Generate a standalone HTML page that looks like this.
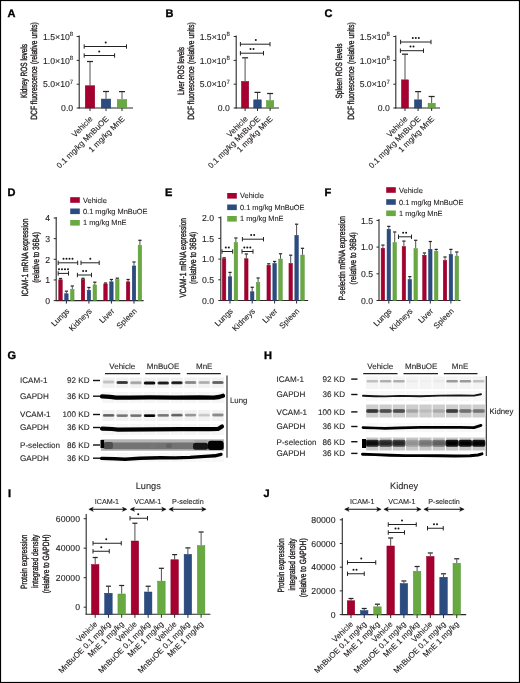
<!DOCTYPE html>
<html><head><meta charset="utf-8"><style>
html,body{margin:0;padding:0;background:#fff;}
body{width:520px;height:683px;overflow:hidden;font-family:"Liberation Sans", sans-serif;}
svg{display:block;will-change:transform;}
text{text-rendering:geometricPrecision;stroke:#231f20;stroke-width:0.1px;}
</style></head><body>
<svg width="520" height="683" viewBox="0 0 520 683" font-family='"Liberation Sans", sans-serif'>
<defs><filter id="blur" x="-5%" y="-20%" width="110%" height="140%"><feGaussianBlur stdDeviation="0.6"/></filter></defs>
<rect x="0" y="0" width="520" height="683" fill="#fff"/>
<text x="0" y="0" font-size="11" text-anchor="start" font-weight="bold" fill="#000" transform="translate(7.40,17.30)" style="stroke:#000;stroke-width:0.35px">A</text>
<line x1="79.20" y1="35.50" x2="79.20" y2="108.50" stroke="#2a2a2a" stroke-width="1.1"/>
<line x1="78.70" y1="108.00" x2="133.00" y2="108.00" stroke="#2a2a2a" stroke-width="1.1"/>
<line x1="76.70" y1="108.00" x2="79.20" y2="108.00" stroke="#2a2a2a" stroke-width="1"/>
<text x="0" y="0" font-size="8.7" text-anchor="end" font-weight="normal" fill="#231f20" transform="translate(73.20,111.20)" >0.0</text>
<line x1="76.70" y1="84.20" x2="79.20" y2="84.20" stroke="#2a2a2a" stroke-width="1"/>
<text x="0" y="0" font-size="8.7" text-anchor="end" font-weight="normal" fill="#231f20" transform="translate(73.20,87.40)" >5.0×10<tspan dy="-3.6" font-size="6">7</tspan></text>
<line x1="76.70" y1="60.40" x2="79.20" y2="60.40" stroke="#2a2a2a" stroke-width="1"/>
<text x="0" y="0" font-size="8.7" text-anchor="end" font-weight="normal" fill="#231f20" transform="translate(73.20,63.60)" >1.0×10<tspan dy="-3.6" font-size="6">8</tspan></text>
<line x1="76.70" y1="36.50" x2="79.20" y2="36.50" stroke="#2a2a2a" stroke-width="1"/>
<text x="0" y="0" font-size="8.7" text-anchor="end" font-weight="normal" fill="#231f20" transform="translate(73.20,39.70)" >1.5×10<tspan dy="-3.6" font-size="6">8</tspan></text>
<line x1="90.00" y1="85.50" x2="90.00" y2="62.00" stroke="#505050" stroke-width="1.0"/>
<line x1="87.00" y1="61.50" x2="93.00" y2="61.50" stroke="#262626" stroke-width="1.25"/>
<rect x="85.25" y="85.75" width="9.50" height="22.25" fill="#a50030" stroke="#8c0026" stroke-width="0.5"/>
<line x1="90.00" y1="108.00" x2="90.00" y2="111.00" stroke="#2a2a2a" stroke-width="1"/>
<line x1="106.00" y1="98.80" x2="106.00" y2="92.00" stroke="#505050" stroke-width="1.0"/>
<line x1="103.00" y1="91.50" x2="109.00" y2="91.50" stroke="#262626" stroke-width="1.25"/>
<rect x="101.25" y="99.05" width="9.50" height="8.95" fill="#2c4c80" stroke="#1d3a72" stroke-width="0.5"/>
<line x1="106.00" y1="108.00" x2="106.00" y2="111.00" stroke="#2a2a2a" stroke-width="1"/>
<line x1="122.00" y1="99.30" x2="122.00" y2="92.10" stroke="#505050" stroke-width="1.0"/>
<line x1="119.00" y1="91.60" x2="125.00" y2="91.60" stroke="#262626" stroke-width="1.25"/>
<rect x="117.25" y="99.55" width="9.50" height="8.45" fill="#68a942" stroke="#559436" stroke-width="0.5"/>
<line x1="122.00" y1="108.00" x2="122.00" y2="111.00" stroke="#2a2a2a" stroke-width="1"/>
<line x1="84.20" y1="46.50" x2="126.50" y2="46.50" stroke="#222" stroke-width="1.0"/>
<line x1="84.20" y1="44.30" x2="84.20" y2="48.70" stroke="#222" stroke-width="1.0"/>
<line x1="126.50" y1="44.30" x2="126.50" y2="48.70" stroke="#222" stroke-width="1.0"/>
<circle cx="105.70" cy="42.40" r="1.0" fill="#151515"/>
<line x1="84.20" y1="55.50" x2="114.60" y2="55.50" stroke="#222" stroke-width="1.0"/>
<line x1="84.20" y1="53.30" x2="84.20" y2="57.70" stroke="#222" stroke-width="1.0"/>
<line x1="114.60" y1="53.30" x2="114.60" y2="57.70" stroke="#222" stroke-width="1.0"/>
<circle cx="99.20" cy="51.40" r="1.0" fill="#151515"/>
<text x="0" y="0" font-size="9" text-anchor="middle" font-weight="normal" fill="#231f20" textLength="54" lengthAdjust="spacingAndGlyphs" transform="translate(27.00,71.00) rotate(-90)" style="stroke-width:0.38px">Kidney ROS levels</text>
<text x="0" y="0" font-size="9" text-anchor="middle" font-weight="normal" fill="#231f20" textLength="97.6" lengthAdjust="spacingAndGlyphs" transform="translate(36.60,71.00) rotate(-90)" style="stroke-width:0.38px">DCF fluorescence (relative units)</text>
<text x="0" y="0" font-size="8" text-anchor="end" font-weight="normal" fill="#231f20" transform="translate(93.20,119.40) rotate(-45)" >Vehicle</text>
<text x="0" y="0" font-size="8" text-anchor="end" font-weight="normal" fill="#231f20" transform="translate(109.20,119.40) rotate(-45)" >0.1 mg/kg MnBuOE</text>
<text x="0" y="0" font-size="8" text-anchor="end" font-weight="normal" fill="#231f20" transform="translate(125.20,119.40) rotate(-45)" >1 mg/kg MnE</text>
<text x="0" y="0" font-size="11" text-anchor="start" font-weight="bold" fill="#000" transform="translate(165.40,17.30)" style="stroke:#000;stroke-width:0.35px">B</text>
<line x1="236.20" y1="35.50" x2="236.20" y2="108.50" stroke="#2a2a2a" stroke-width="1.1"/>
<line x1="235.70" y1="108.00" x2="279.00" y2="108.00" stroke="#2a2a2a" stroke-width="1.1"/>
<line x1="233.70" y1="108.00" x2="236.20" y2="108.00" stroke="#2a2a2a" stroke-width="1"/>
<text x="0" y="0" font-size="8.7" text-anchor="end" font-weight="normal" fill="#231f20" transform="translate(229.80,111.20)" >0.0</text>
<line x1="233.70" y1="84.20" x2="236.20" y2="84.20" stroke="#2a2a2a" stroke-width="1"/>
<text x="0" y="0" font-size="8.7" text-anchor="end" font-weight="normal" fill="#231f20" transform="translate(229.80,87.40)" >5.0×10<tspan dy="-3.6" font-size="6">7</tspan></text>
<line x1="233.70" y1="60.40" x2="236.20" y2="60.40" stroke="#2a2a2a" stroke-width="1"/>
<text x="0" y="0" font-size="8.7" text-anchor="end" font-weight="normal" fill="#231f20" transform="translate(229.80,63.60)" >1.0×10<tspan dy="-3.6" font-size="6">8</tspan></text>
<line x1="233.70" y1="36.50" x2="236.20" y2="36.50" stroke="#2a2a2a" stroke-width="1"/>
<text x="0" y="0" font-size="8.7" text-anchor="end" font-weight="normal" fill="#231f20" transform="translate(229.80,39.70)" >1.5×10<tspan dy="-3.6" font-size="6">8</tspan></text>
<line x1="245.10" y1="81.20" x2="245.10" y2="58.30" stroke="#505050" stroke-width="1.0"/>
<line x1="242.10" y1="57.80" x2="248.10" y2="57.80" stroke="#262626" stroke-width="1.25"/>
<rect x="241.45" y="81.45" width="7.30" height="26.55" fill="#a50030" stroke="#8c0026" stroke-width="0.5"/>
<line x1="245.10" y1="108.00" x2="245.10" y2="111.00" stroke="#2a2a2a" stroke-width="1"/>
<line x1="257.50" y1="99.60" x2="257.50" y2="92.90" stroke="#505050" stroke-width="1.0"/>
<line x1="254.50" y1="92.40" x2="260.50" y2="92.40" stroke="#262626" stroke-width="1.25"/>
<rect x="253.75" y="99.85" width="7.50" height="8.15" fill="#2c4c80" stroke="#1d3a72" stroke-width="0.5"/>
<line x1="257.50" y1="108.00" x2="257.50" y2="111.00" stroke="#2a2a2a" stroke-width="1"/>
<line x1="270.10" y1="100.40" x2="270.10" y2="94.00" stroke="#505050" stroke-width="1.0"/>
<line x1="267.10" y1="93.50" x2="273.10" y2="93.50" stroke="#262626" stroke-width="1.25"/>
<rect x="266.45" y="100.65" width="7.30" height="7.35" fill="#68a942" stroke="#559436" stroke-width="0.5"/>
<line x1="270.10" y1="108.00" x2="270.10" y2="111.00" stroke="#2a2a2a" stroke-width="1"/>
<line x1="240.40" y1="44.20" x2="270.00" y2="44.20" stroke="#222" stroke-width="1.0"/>
<line x1="240.40" y1="42.00" x2="240.40" y2="46.40" stroke="#222" stroke-width="1.0"/>
<line x1="270.00" y1="42.00" x2="270.00" y2="46.40" stroke="#222" stroke-width="1.0"/>
<circle cx="255.80" cy="40.10" r="1.0" fill="#151515"/>
<line x1="240.40" y1="53.20" x2="263.50" y2="53.20" stroke="#222" stroke-width="1.0"/>
<line x1="240.40" y1="51.00" x2="240.40" y2="55.40" stroke="#222" stroke-width="1.0"/>
<line x1="263.50" y1="51.00" x2="263.50" y2="55.40" stroke="#222" stroke-width="1.0"/>
<circle cx="250.50" cy="49.10" r="1.0" fill="#151515"/>
<circle cx="253.50" cy="49.10" r="1.0" fill="#151515"/>
<text x="0" y="0" font-size="9" text-anchor="middle" font-weight="normal" fill="#231f20" textLength="48" lengthAdjust="spacingAndGlyphs" transform="translate(184.00,71.00) rotate(-90)" style="stroke-width:0.38px">Liver ROS levels</text>
<text x="0" y="0" font-size="9" text-anchor="middle" font-weight="normal" fill="#231f20" textLength="97.6" lengthAdjust="spacingAndGlyphs" transform="translate(194.20,71.00) rotate(-90)" style="stroke-width:0.38px">DCF fluorescence (relative units)</text>
<text x="0" y="0" font-size="8" text-anchor="end" font-weight="normal" fill="#231f20" transform="translate(248.30,119.40) rotate(-45)" >Vehicle</text>
<text x="0" y="0" font-size="8" text-anchor="end" font-weight="normal" fill="#231f20" transform="translate(260.70,119.40) rotate(-45)" >0.1 mg/kg MnBuOE</text>
<text x="0" y="0" font-size="8" text-anchor="end" font-weight="normal" fill="#231f20" transform="translate(273.30,119.40) rotate(-45)" >1 mg/kg MnE</text>
<text x="0" y="0" font-size="11" text-anchor="start" font-weight="bold" fill="#000" transform="translate(324.40,17.30)" style="stroke:#000;stroke-width:0.35px">C</text>
<line x1="395.80" y1="35.50" x2="395.80" y2="108.50" stroke="#2a2a2a" stroke-width="1.1"/>
<line x1="395.30" y1="108.00" x2="440.00" y2="108.00" stroke="#2a2a2a" stroke-width="1.1"/>
<line x1="393.30" y1="108.00" x2="395.80" y2="108.00" stroke="#2a2a2a" stroke-width="1"/>
<text x="0" y="0" font-size="8.7" text-anchor="end" font-weight="normal" fill="#231f20" transform="translate(389.80,111.20)" >0.0</text>
<line x1="393.30" y1="84.20" x2="395.80" y2="84.20" stroke="#2a2a2a" stroke-width="1"/>
<text x="0" y="0" font-size="8.7" text-anchor="end" font-weight="normal" fill="#231f20" transform="translate(389.80,87.40)" >5.0×10<tspan dy="-3.6" font-size="6">7</tspan></text>
<line x1="393.30" y1="60.40" x2="395.80" y2="60.40" stroke="#2a2a2a" stroke-width="1"/>
<text x="0" y="0" font-size="8.7" text-anchor="end" font-weight="normal" fill="#231f20" transform="translate(389.80,63.60)" >1.0×10<tspan dy="-3.6" font-size="6">8</tspan></text>
<line x1="393.30" y1="36.50" x2="395.80" y2="36.50" stroke="#2a2a2a" stroke-width="1"/>
<text x="0" y="0" font-size="8.7" text-anchor="end" font-weight="normal" fill="#231f20" transform="translate(389.80,39.70)" >1.5×10<tspan dy="-3.6" font-size="6">8</tspan></text>
<line x1="405.00" y1="79.60" x2="405.00" y2="54.70" stroke="#505050" stroke-width="1.0"/>
<line x1="402.00" y1="54.20" x2="408.00" y2="54.20" stroke="#262626" stroke-width="1.25"/>
<rect x="401.45" y="79.85" width="7.10" height="28.15" fill="#a50030" stroke="#8c0026" stroke-width="0.5"/>
<line x1="405.00" y1="108.00" x2="405.00" y2="111.00" stroke="#2a2a2a" stroke-width="1"/>
<line x1="418.10" y1="99.60" x2="418.10" y2="92.10" stroke="#505050" stroke-width="1.0"/>
<line x1="415.10" y1="91.60" x2="421.10" y2="91.60" stroke="#262626" stroke-width="1.25"/>
<rect x="414.45" y="99.85" width="7.30" height="8.15" fill="#2c4c80" stroke="#1d3a72" stroke-width="0.5"/>
<line x1="418.10" y1="108.00" x2="418.10" y2="111.00" stroke="#2a2a2a" stroke-width="1"/>
<line x1="431.65" y1="103.00" x2="431.65" y2="97.00" stroke="#505050" stroke-width="1.0"/>
<line x1="428.65" y1="96.50" x2="434.65" y2="96.50" stroke="#262626" stroke-width="1.25"/>
<rect x="428.05" y="103.25" width="7.20" height="4.75" fill="#68a942" stroke="#559436" stroke-width="0.5"/>
<line x1="431.65" y1="108.00" x2="431.65" y2="111.00" stroke="#2a2a2a" stroke-width="1"/>
<line x1="400.60" y1="42.00" x2="431.00" y2="42.00" stroke="#222" stroke-width="1.0"/>
<line x1="400.60" y1="39.80" x2="400.60" y2="44.20" stroke="#222" stroke-width="1.0"/>
<line x1="431.00" y1="39.80" x2="431.00" y2="44.20" stroke="#222" stroke-width="1.0"/>
<circle cx="412.80" cy="37.90" r="1.0" fill="#151515"/>
<circle cx="415.80" cy="37.90" r="1.0" fill="#151515"/>
<circle cx="418.80" cy="37.90" r="1.0" fill="#151515"/>
<line x1="400.40" y1="50.70" x2="423.50" y2="50.70" stroke="#222" stroke-width="1.0"/>
<line x1="400.40" y1="48.50" x2="400.40" y2="52.90" stroke="#222" stroke-width="1.0"/>
<line x1="423.50" y1="48.50" x2="423.50" y2="52.90" stroke="#222" stroke-width="1.0"/>
<circle cx="410.50" cy="46.60" r="1.0" fill="#151515"/>
<circle cx="413.50" cy="46.60" r="1.0" fill="#151515"/>
<text x="0" y="0" font-size="9" text-anchor="middle" font-weight="normal" fill="#231f20" textLength="55" lengthAdjust="spacingAndGlyphs" transform="translate(342.20,71.00) rotate(-90)" style="stroke-width:0.38px">Spleen ROS levels</text>
<text x="0" y="0" font-size="9" text-anchor="middle" font-weight="normal" fill="#231f20" textLength="97.6" lengthAdjust="spacingAndGlyphs" transform="translate(354.20,71.00) rotate(-90)" style="stroke-width:0.38px">DCF fluorescence (relative units)</text>
<text x="0" y="0" font-size="8" text-anchor="end" font-weight="normal" fill="#231f20" transform="translate(408.20,119.40) rotate(-45)" >Vehicle</text>
<text x="0" y="0" font-size="8" text-anchor="end" font-weight="normal" fill="#231f20" transform="translate(421.30,119.40) rotate(-45)" >0.1 mg/kg MnBuOE</text>
<text x="0" y="0" font-size="8" text-anchor="end" font-weight="normal" fill="#231f20" transform="translate(434.85,119.40) rotate(-45)" >1 mg/kg MnE</text>
<text x="0" y="0" font-size="11" text-anchor="start" font-weight="bold" fill="#000" transform="translate(7.40,195.80)" style="stroke:#000;stroke-width:0.35px">D</text>
<line x1="56.20" y1="217.00" x2="56.20" y2="301.10" stroke="#2a2a2a" stroke-width="1.1"/>
<line x1="55.70" y1="300.60" x2="143.60" y2="300.60" stroke="#2a2a2a" stroke-width="1.1"/>
<line x1="53.70" y1="300.60" x2="56.20" y2="300.60" stroke="#2a2a2a" stroke-width="1"/>
<text x="0" y="0" font-size="8.7" text-anchor="end" font-weight="normal" fill="#231f20" transform="translate(50.20,303.80)" >0</text>
<line x1="53.70" y1="279.95" x2="56.20" y2="279.95" stroke="#2a2a2a" stroke-width="1"/>
<text x="0" y="0" font-size="8.7" text-anchor="end" font-weight="normal" fill="#231f20" transform="translate(50.20,283.15)" >1</text>
<line x1="53.70" y1="259.30" x2="56.20" y2="259.30" stroke="#2a2a2a" stroke-width="1"/>
<text x="0" y="0" font-size="8.7" text-anchor="end" font-weight="normal" fill="#231f20" transform="translate(50.20,262.50)" >2</text>
<line x1="53.70" y1="238.65" x2="56.20" y2="238.65" stroke="#2a2a2a" stroke-width="1"/>
<text x="0" y="0" font-size="8.7" text-anchor="end" font-weight="normal" fill="#231f20" transform="translate(50.20,241.85)" >3</text>
<line x1="53.70" y1="218.00" x2="56.20" y2="218.00" stroke="#2a2a2a" stroke-width="1"/>
<text x="0" y="0" font-size="8.7" text-anchor="end" font-weight="normal" fill="#231f20" transform="translate(50.20,221.20)" >4</text>
<line x1="66.40" y1="300.60" x2="66.40" y2="303.60" stroke="#2a2a2a" stroke-width="1"/>
<line x1="60.50" y1="279.50" x2="60.50" y2="279.00" stroke="#505050" stroke-width="1.0"/>
<line x1="58.90" y1="278.50" x2="62.10" y2="278.50" stroke="#262626" stroke-width="1.25"/>
<rect x="58.75" y="279.75" width="3.50" height="20.85" fill="#a50030" stroke="#8c0026" stroke-width="0.5"/>
<line x1="66.40" y1="293.50" x2="66.40" y2="291.70" stroke="#505050" stroke-width="1.0"/>
<line x1="64.80" y1="291.20" x2="68.00" y2="291.20" stroke="#262626" stroke-width="1.25"/>
<rect x="64.65" y="293.75" width="3.50" height="6.85" fill="#2c4c80" stroke="#1d3a72" stroke-width="0.5"/>
<line x1="72.30" y1="289.20" x2="72.30" y2="286.50" stroke="#505050" stroke-width="1.0"/>
<line x1="70.70" y1="286.00" x2="73.90" y2="286.00" stroke="#262626" stroke-width="1.25"/>
<rect x="70.55" y="289.45" width="3.50" height="11.15" fill="#68a942" stroke="#559436" stroke-width="0.5"/>
<line x1="88.90" y1="300.60" x2="88.90" y2="303.60" stroke="#2a2a2a" stroke-width="1"/>
<line x1="83.00" y1="279.20" x2="83.00" y2="278.80" stroke="#505050" stroke-width="1.0"/>
<line x1="81.40" y1="278.30" x2="84.60" y2="278.30" stroke="#262626" stroke-width="1.25"/>
<rect x="81.25" y="279.45" width="3.50" height="21.15" fill="#a50030" stroke="#8c0026" stroke-width="0.5"/>
<line x1="88.90" y1="290.00" x2="88.90" y2="288.00" stroke="#505050" stroke-width="1.0"/>
<line x1="87.30" y1="287.50" x2="90.50" y2="287.50" stroke="#262626" stroke-width="1.25"/>
<rect x="87.15" y="290.25" width="3.50" height="10.35" fill="#2c4c80" stroke="#1d3a72" stroke-width="0.5"/>
<line x1="94.80" y1="284.60" x2="94.80" y2="282.70" stroke="#505050" stroke-width="1.0"/>
<line x1="93.20" y1="282.20" x2="96.40" y2="282.20" stroke="#262626" stroke-width="1.25"/>
<rect x="93.05" y="284.85" width="3.50" height="15.75" fill="#68a942" stroke="#559436" stroke-width="0.5"/>
<line x1="111.40" y1="300.60" x2="111.40" y2="303.60" stroke="#2a2a2a" stroke-width="1"/>
<line x1="105.50" y1="283.70" x2="105.50" y2="283.50" stroke="#505050" stroke-width="1.0"/>
<line x1="103.90" y1="283.00" x2="107.10" y2="283.00" stroke="#262626" stroke-width="1.25"/>
<rect x="103.75" y="283.95" width="3.50" height="16.65" fill="#a50030" stroke="#8c0026" stroke-width="0.5"/>
<line x1="111.40" y1="281.60" x2="111.40" y2="280.00" stroke="#505050" stroke-width="1.0"/>
<line x1="109.80" y1="279.50" x2="113.00" y2="279.50" stroke="#262626" stroke-width="1.25"/>
<rect x="109.65" y="281.85" width="3.50" height="18.75" fill="#2c4c80" stroke="#1d3a72" stroke-width="0.5"/>
<line x1="117.30" y1="279.40" x2="117.30" y2="278.70" stroke="#505050" stroke-width="1.0"/>
<line x1="115.70" y1="278.20" x2="118.90" y2="278.20" stroke="#262626" stroke-width="1.25"/>
<rect x="115.55" y="279.65" width="3.50" height="20.95" fill="#68a942" stroke="#559436" stroke-width="0.5"/>
<line x1="134.00" y1="300.60" x2="134.00" y2="303.60" stroke="#2a2a2a" stroke-width="1"/>
<line x1="128.10" y1="281.60" x2="128.10" y2="280.00" stroke="#505050" stroke-width="1.0"/>
<line x1="126.50" y1="279.50" x2="129.70" y2="279.50" stroke="#262626" stroke-width="1.25"/>
<rect x="126.35" y="281.85" width="3.50" height="18.75" fill="#a50030" stroke="#8c0026" stroke-width="0.5"/>
<line x1="134.00" y1="265.70" x2="134.00" y2="262.50" stroke="#505050" stroke-width="1.0"/>
<line x1="132.40" y1="262.00" x2="135.60" y2="262.00" stroke="#262626" stroke-width="1.25"/>
<rect x="132.25" y="265.95" width="3.50" height="34.65" fill="#2c4c80" stroke="#1d3a72" stroke-width="0.5"/>
<line x1="139.90" y1="245.00" x2="139.90" y2="240.80" stroke="#505050" stroke-width="1.0"/>
<line x1="138.30" y1="240.30" x2="141.50" y2="240.30" stroke="#262626" stroke-width="1.25"/>
<rect x="138.15" y="245.25" width="3.50" height="55.35" fill="#68a942" stroke="#559436" stroke-width="0.5"/>
<line x1="58.20" y1="262.80" x2="77.70" y2="262.80" stroke="#222" stroke-width="1.0"/>
<line x1="58.20" y1="260.60" x2="58.20" y2="265.00" stroke="#222" stroke-width="1.0"/>
<line x1="77.70" y1="260.60" x2="77.70" y2="265.00" stroke="#222" stroke-width="1.0"/>
<circle cx="63.50" cy="258.70" r="1.0" fill="#151515"/>
<circle cx="66.50" cy="258.70" r="1.0" fill="#151515"/>
<circle cx="69.50" cy="258.70" r="1.0" fill="#151515"/>
<circle cx="72.50" cy="258.70" r="1.0" fill="#151515"/>
<line x1="81.00" y1="262.80" x2="99.20" y2="262.80" stroke="#222" stroke-width="1.0"/>
<line x1="81.00" y1="260.60" x2="81.00" y2="265.00" stroke="#222" stroke-width="1.0"/>
<line x1="99.20" y1="260.60" x2="99.20" y2="265.00" stroke="#222" stroke-width="1.0"/>
<circle cx="90.30" cy="258.70" r="1.0" fill="#151515"/>
<line x1="58.20" y1="273.40" x2="68.50" y2="273.40" stroke="#222" stroke-width="1.0"/>
<line x1="58.20" y1="271.20" x2="58.20" y2="275.60" stroke="#222" stroke-width="1.0"/>
<line x1="68.50" y1="271.20" x2="68.50" y2="275.60" stroke="#222" stroke-width="1.0"/>
<circle cx="59.00" cy="269.30" r="1.0" fill="#151515"/>
<circle cx="62.00" cy="269.30" r="1.0" fill="#151515"/>
<circle cx="65.00" cy="269.30" r="1.0" fill="#151515"/>
<circle cx="68.00" cy="269.30" r="1.0" fill="#151515"/>
<line x1="77.40" y1="275.00" x2="91.50" y2="275.00" stroke="#222" stroke-width="1.0"/>
<line x1="77.40" y1="272.80" x2="77.40" y2="277.20" stroke="#222" stroke-width="1.0"/>
<line x1="91.50" y1="272.80" x2="91.50" y2="277.20" stroke="#222" stroke-width="1.0"/>
<circle cx="83.10" cy="270.90" r="1.0" fill="#151515"/>
<circle cx="86.10" cy="270.90" r="1.0" fill="#151515"/>
<rect x="70.20" y="197.20" width="9.60" height="5.60" fill="#a50030"/>
<text x="0" y="0" font-size="7.4" text-anchor="start" font-weight="normal" fill="#231f20" transform="translate(83.00,202.60)" >Vehicle</text>
<rect x="70.20" y="208.50" width="9.60" height="5.60" fill="#2c4c80"/>
<text x="0" y="0" font-size="7.4" text-anchor="start" font-weight="normal" fill="#231f20" transform="translate(83.00,213.90)" >0.1 mg/kg MnBuOE</text>
<rect x="70.20" y="220.00" width="9.60" height="5.60" fill="#68a942"/>
<text x="0" y="0" font-size="7.4" text-anchor="start" font-weight="normal" fill="#231f20" transform="translate(83.00,225.40)" >1 mg/kg MnE</text>
<text x="0" y="0" font-size="9" text-anchor="middle" font-weight="normal" fill="#231f20" textLength="78" lengthAdjust="spacingAndGlyphs" transform="translate(27.80,257.50) rotate(-90)" style="stroke-width:0.38px">ICAM-1 mRNA expression</text>
<text x="0" y="0" font-size="9" text-anchor="middle" font-weight="normal" fill="#231f20" textLength="50.7" lengthAdjust="spacingAndGlyphs" transform="translate(38.60,257.50) rotate(-90)" style="stroke-width:0.38px">(relative to 36B4)</text>
<text x="0" y="0" font-size="8" text-anchor="end" font-weight="normal" fill="#231f20" transform="translate(69.80,311.60) rotate(-45)" >Lungs</text>
<text x="0" y="0" font-size="8" text-anchor="end" font-weight="normal" fill="#231f20" transform="translate(92.30,311.60) rotate(-45)" >Kidneys</text>
<text x="0" y="0" font-size="8" text-anchor="end" font-weight="normal" fill="#231f20" transform="translate(114.80,311.60) rotate(-45)" >Liver</text>
<text x="0" y="0" font-size="8" text-anchor="end" font-weight="normal" fill="#231f20" transform="translate(137.40,311.60) rotate(-45)" >Spleen</text>
<text x="0" y="0" font-size="11" text-anchor="start" font-weight="bold" fill="#000" transform="translate(164.90,195.80)" style="stroke:#000;stroke-width:0.35px">E</text>
<line x1="220.80" y1="216.50" x2="220.80" y2="301.00" stroke="#2a2a2a" stroke-width="1.1"/>
<line x1="220.30" y1="300.50" x2="308.20" y2="300.50" stroke="#2a2a2a" stroke-width="1.1"/>
<line x1="218.30" y1="300.50" x2="220.80" y2="300.50" stroke="#2a2a2a" stroke-width="1"/>
<text x="0" y="0" font-size="8.7" text-anchor="end" font-weight="normal" fill="#231f20" transform="translate(214.00,303.70)" >0.0</text>
<line x1="218.30" y1="279.80" x2="220.80" y2="279.80" stroke="#2a2a2a" stroke-width="1"/>
<text x="0" y="0" font-size="8.7" text-anchor="end" font-weight="normal" fill="#231f20" transform="translate(214.00,283.00)" >0.5</text>
<line x1="218.30" y1="259.10" x2="220.80" y2="259.10" stroke="#2a2a2a" stroke-width="1"/>
<text x="0" y="0" font-size="8.7" text-anchor="end" font-weight="normal" fill="#231f20" transform="translate(214.00,262.30)" >1.0</text>
<line x1="218.30" y1="238.40" x2="220.80" y2="238.40" stroke="#2a2a2a" stroke-width="1"/>
<text x="0" y="0" font-size="8.7" text-anchor="end" font-weight="normal" fill="#231f20" transform="translate(214.00,241.60)" >1.5</text>
<line x1="218.30" y1="217.70" x2="220.80" y2="217.70" stroke="#2a2a2a" stroke-width="1"/>
<text x="0" y="0" font-size="8.7" text-anchor="end" font-weight="normal" fill="#231f20" transform="translate(214.00,220.90)" >2.0</text>
<line x1="230.00" y1="300.50" x2="230.00" y2="303.50" stroke="#2a2a2a" stroke-width="1"/>
<line x1="224.10" y1="258.50" x2="224.10" y2="258.30" stroke="#505050" stroke-width="1.0"/>
<line x1="222.50" y1="257.80" x2="225.70" y2="257.80" stroke="#262626" stroke-width="1.25"/>
<rect x="222.35" y="258.75" width="3.50" height="41.75" fill="#a50030" stroke="#8c0026" stroke-width="0.5"/>
<line x1="230.00" y1="276.50" x2="230.00" y2="272.90" stroke="#505050" stroke-width="1.0"/>
<line x1="228.40" y1="272.40" x2="231.60" y2="272.40" stroke="#262626" stroke-width="1.25"/>
<rect x="228.25" y="276.75" width="3.50" height="23.75" fill="#2c4c80" stroke="#1d3a72" stroke-width="0.5"/>
<line x1="235.90" y1="242.20" x2="235.90" y2="238.50" stroke="#505050" stroke-width="1.0"/>
<line x1="234.30" y1="238.00" x2="237.50" y2="238.00" stroke="#262626" stroke-width="1.25"/>
<rect x="234.15" y="242.45" width="3.50" height="58.05" fill="#68a942" stroke="#559436" stroke-width="0.5"/>
<line x1="252.20" y1="300.50" x2="252.20" y2="303.50" stroke="#2a2a2a" stroke-width="1"/>
<line x1="246.30" y1="258.50" x2="246.30" y2="254.50" stroke="#505050" stroke-width="1.0"/>
<line x1="244.70" y1="254.00" x2="247.90" y2="254.00" stroke="#262626" stroke-width="1.25"/>
<rect x="244.55" y="258.75" width="3.50" height="41.75" fill="#a50030" stroke="#8c0026" stroke-width="0.5"/>
<line x1="252.20" y1="291.50" x2="252.20" y2="287.80" stroke="#505050" stroke-width="1.0"/>
<line x1="250.60" y1="287.30" x2="253.80" y2="287.30" stroke="#262626" stroke-width="1.25"/>
<rect x="250.45" y="291.75" width="3.50" height="8.75" fill="#2c4c80" stroke="#1d3a72" stroke-width="0.5"/>
<line x1="258.10" y1="282.20" x2="258.10" y2="278.50" stroke="#505050" stroke-width="1.0"/>
<line x1="256.50" y1="278.00" x2="259.70" y2="278.00" stroke="#262626" stroke-width="1.25"/>
<rect x="256.35" y="282.45" width="3.50" height="18.05" fill="#68a942" stroke="#559436" stroke-width="0.5"/>
<line x1="274.60" y1="300.50" x2="274.60" y2="303.50" stroke="#2a2a2a" stroke-width="1"/>
<line x1="268.70" y1="265.00" x2="268.70" y2="264.30" stroke="#505050" stroke-width="1.0"/>
<line x1="267.10" y1="263.80" x2="270.30" y2="263.80" stroke="#262626" stroke-width="1.25"/>
<rect x="266.95" y="265.25" width="3.50" height="35.25" fill="#a50030" stroke="#8c0026" stroke-width="0.5"/>
<line x1="274.60" y1="263.20" x2="274.60" y2="262.00" stroke="#505050" stroke-width="1.0"/>
<line x1="273.00" y1="261.50" x2="276.20" y2="261.50" stroke="#262626" stroke-width="1.25"/>
<rect x="272.85" y="263.45" width="3.50" height="37.05" fill="#2c4c80" stroke="#1d3a72" stroke-width="0.5"/>
<line x1="280.50" y1="258.80" x2="280.50" y2="254.30" stroke="#505050" stroke-width="1.0"/>
<line x1="278.90" y1="253.80" x2="282.10" y2="253.80" stroke="#262626" stroke-width="1.25"/>
<rect x="278.75" y="259.05" width="3.50" height="41.45" fill="#68a942" stroke="#559436" stroke-width="0.5"/>
<line x1="296.60" y1="300.50" x2="296.60" y2="303.50" stroke="#2a2a2a" stroke-width="1"/>
<line x1="290.70" y1="263.10" x2="290.70" y2="255.70" stroke="#505050" stroke-width="1.0"/>
<line x1="289.10" y1="255.20" x2="292.30" y2="255.20" stroke="#262626" stroke-width="1.25"/>
<rect x="288.95" y="263.35" width="3.50" height="37.15" fill="#a50030" stroke="#8c0026" stroke-width="0.5"/>
<line x1="296.60" y1="235.10" x2="296.60" y2="224.70" stroke="#505050" stroke-width="1.0"/>
<line x1="295.00" y1="224.20" x2="298.20" y2="224.20" stroke="#262626" stroke-width="1.25"/>
<rect x="294.85" y="235.35" width="3.50" height="65.15" fill="#2c4c80" stroke="#1d3a72" stroke-width="0.5"/>
<line x1="302.50" y1="254.80" x2="302.50" y2="248.80" stroke="#505050" stroke-width="1.0"/>
<line x1="300.90" y1="248.30" x2="304.10" y2="248.30" stroke="#262626" stroke-width="1.25"/>
<rect x="300.75" y="255.05" width="3.50" height="45.45" fill="#68a942" stroke="#559436" stroke-width="0.5"/>
<line x1="222.00" y1="251.50" x2="232.70" y2="251.50" stroke="#222" stroke-width="1.0"/>
<line x1="222.00" y1="249.30" x2="222.00" y2="253.70" stroke="#222" stroke-width="1.0"/>
<line x1="232.70" y1="249.30" x2="232.70" y2="253.70" stroke="#222" stroke-width="1.0"/>
<circle cx="225.80" cy="247.40" r="1.0" fill="#151515"/>
<circle cx="228.80" cy="247.40" r="1.0" fill="#151515"/>
<line x1="242.00" y1="251.50" x2="253.00" y2="251.50" stroke="#222" stroke-width="1.0"/>
<line x1="242.00" y1="249.30" x2="242.00" y2="253.70" stroke="#222" stroke-width="1.0"/>
<line x1="253.00" y1="249.30" x2="253.00" y2="253.70" stroke="#222" stroke-width="1.0"/>
<circle cx="244.30" cy="247.40" r="1.0" fill="#151515"/>
<circle cx="247.30" cy="247.40" r="1.0" fill="#151515"/>
<circle cx="250.30" cy="247.40" r="1.0" fill="#151515"/>
<line x1="242.40" y1="239.20" x2="263.50" y2="239.20" stroke="#222" stroke-width="1.0"/>
<line x1="242.40" y1="237.00" x2="242.40" y2="241.40" stroke="#222" stroke-width="1.0"/>
<line x1="263.50" y1="237.00" x2="263.50" y2="241.40" stroke="#222" stroke-width="1.0"/>
<circle cx="251.20" cy="235.10" r="1.0" fill="#151515"/>
<circle cx="254.20" cy="235.10" r="1.0" fill="#151515"/>
<rect x="227.20" y="193.00" width="9.60" height="5.60" fill="#a50030"/>
<text x="0" y="0" font-size="7.4" text-anchor="start" font-weight="normal" fill="#231f20" transform="translate(240.00,198.40)" >Vehicle</text>
<rect x="227.20" y="204.50" width="9.60" height="5.60" fill="#2c4c80"/>
<text x="0" y="0" font-size="7.4" text-anchor="start" font-weight="normal" fill="#231f20" transform="translate(240.00,209.90)" >0.1 mg/kg MnBuOE</text>
<rect x="227.20" y="216.00" width="9.60" height="5.60" fill="#68a942"/>
<text x="0" y="0" font-size="7.4" text-anchor="start" font-weight="normal" fill="#231f20" transform="translate(240.00,221.40)" >1 mg/kg MnE</text>
<text x="0" y="0" font-size="9" text-anchor="middle" font-weight="normal" fill="#231f20" textLength="79.6" lengthAdjust="spacingAndGlyphs" transform="translate(186.00,257.80) rotate(-90)" style="stroke-width:0.38px">VCAM-1 mRNA expression</text>
<text x="0" y="0" font-size="9" text-anchor="middle" font-weight="normal" fill="#231f20" textLength="52.4" lengthAdjust="spacingAndGlyphs" transform="translate(196.40,257.80) rotate(-90)" style="stroke-width:0.38px">(relative to 36B4)</text>
<text x="0" y="0" font-size="8" text-anchor="end" font-weight="normal" fill="#231f20" transform="translate(233.40,311.60) rotate(-45)" >Lungs</text>
<text x="0" y="0" font-size="8" text-anchor="end" font-weight="normal" fill="#231f20" transform="translate(255.60,311.60) rotate(-45)" >Kidneys</text>
<text x="0" y="0" font-size="8" text-anchor="end" font-weight="normal" fill="#231f20" transform="translate(278.00,311.60) rotate(-45)" >Liver</text>
<text x="0" y="0" font-size="8" text-anchor="end" font-weight="normal" fill="#231f20" transform="translate(300.00,311.60) rotate(-45)" >Spleen</text>
<text x="0" y="0" font-size="11" text-anchor="start" font-weight="bold" fill="#000" transform="translate(324.40,195.80)" style="stroke:#000;stroke-width:0.35px">F</text>
<line x1="379.00" y1="219.00" x2="379.00" y2="301.00" stroke="#2a2a2a" stroke-width="1.1"/>
<line x1="378.50" y1="300.50" x2="460.50" y2="300.50" stroke="#2a2a2a" stroke-width="1.1"/>
<line x1="376.50" y1="300.50" x2="379.00" y2="300.50" stroke="#2a2a2a" stroke-width="1"/>
<text x="0" y="0" font-size="8.7" text-anchor="end" font-weight="normal" fill="#231f20" transform="translate(373.00,303.70)" >0.0</text>
<line x1="376.50" y1="273.80" x2="379.00" y2="273.80" stroke="#2a2a2a" stroke-width="1"/>
<text x="0" y="0" font-size="8.7" text-anchor="end" font-weight="normal" fill="#231f20" transform="translate(373.00,277.00)" >0.5</text>
<line x1="376.50" y1="247.10" x2="379.00" y2="247.10" stroke="#2a2a2a" stroke-width="1"/>
<text x="0" y="0" font-size="8.7" text-anchor="end" font-weight="normal" fill="#231f20" transform="translate(373.00,250.30)" >1.0</text>
<line x1="376.50" y1="220.40" x2="379.00" y2="220.40" stroke="#2a2a2a" stroke-width="1"/>
<text x="0" y="0" font-size="8.7" text-anchor="end" font-weight="normal" fill="#231f20" transform="translate(373.00,223.60)" >1.5</text>
<line x1="388.80" y1="300.50" x2="388.80" y2="303.50" stroke="#2a2a2a" stroke-width="1"/>
<line x1="382.90" y1="248.00" x2="382.90" y2="245.60" stroke="#505050" stroke-width="1.0"/>
<line x1="381.30" y1="245.10" x2="384.50" y2="245.10" stroke="#262626" stroke-width="1.25"/>
<rect x="381.15" y="248.25" width="3.50" height="52.25" fill="#a50030" stroke="#8c0026" stroke-width="0.5"/>
<line x1="388.80" y1="229.00" x2="388.80" y2="226.90" stroke="#505050" stroke-width="1.0"/>
<line x1="387.20" y1="226.40" x2="390.40" y2="226.40" stroke="#262626" stroke-width="1.25"/>
<rect x="387.05" y="229.25" width="3.50" height="71.25" fill="#2c4c80" stroke="#1d3a72" stroke-width="0.5"/>
<line x1="394.70" y1="242.40" x2="394.70" y2="232.50" stroke="#505050" stroke-width="1.0"/>
<line x1="393.10" y1="232.00" x2="396.30" y2="232.00" stroke="#262626" stroke-width="1.25"/>
<rect x="392.95" y="242.65" width="3.50" height="57.85" fill="#68a942" stroke="#559436" stroke-width="0.5"/>
<line x1="409.80" y1="300.50" x2="409.80" y2="303.50" stroke="#2a2a2a" stroke-width="1"/>
<line x1="403.90" y1="246.30" x2="403.90" y2="241.60" stroke="#505050" stroke-width="1.0"/>
<line x1="402.30" y1="241.10" x2="405.50" y2="241.10" stroke="#262626" stroke-width="1.25"/>
<rect x="402.15" y="246.55" width="3.50" height="53.95" fill="#a50030" stroke="#8c0026" stroke-width="0.5"/>
<line x1="409.80" y1="279.20" x2="409.80" y2="277.10" stroke="#505050" stroke-width="1.0"/>
<line x1="408.20" y1="276.60" x2="411.40" y2="276.60" stroke="#262626" stroke-width="1.25"/>
<rect x="408.05" y="279.45" width="3.50" height="21.05" fill="#2c4c80" stroke="#1d3a72" stroke-width="0.5"/>
<line x1="415.70" y1="248.40" x2="415.70" y2="240.80" stroke="#505050" stroke-width="1.0"/>
<line x1="414.10" y1="240.30" x2="417.30" y2="240.30" stroke="#262626" stroke-width="1.25"/>
<rect x="413.95" y="248.65" width="3.50" height="51.85" fill="#68a942" stroke="#559436" stroke-width="0.5"/>
<line x1="430.30" y1="300.50" x2="430.30" y2="303.50" stroke="#2a2a2a" stroke-width="1"/>
<line x1="424.40" y1="255.00" x2="424.40" y2="253.50" stroke="#505050" stroke-width="1.0"/>
<line x1="422.80" y1="253.00" x2="426.00" y2="253.00" stroke="#262626" stroke-width="1.25"/>
<rect x="422.65" y="255.25" width="3.50" height="45.25" fill="#a50030" stroke="#8c0026" stroke-width="0.5"/>
<line x1="430.30" y1="249.00" x2="430.30" y2="242.00" stroke="#505050" stroke-width="1.0"/>
<line x1="428.70" y1="241.50" x2="431.90" y2="241.50" stroke="#262626" stroke-width="1.25"/>
<rect x="428.55" y="249.25" width="3.50" height="51.25" fill="#2c4c80" stroke="#1d3a72" stroke-width="0.5"/>
<line x1="436.20" y1="251.00" x2="436.20" y2="249.90" stroke="#505050" stroke-width="1.0"/>
<line x1="434.60" y1="249.40" x2="437.80" y2="249.40" stroke="#262626" stroke-width="1.25"/>
<rect x="434.45" y="251.25" width="3.50" height="49.25" fill="#68a942" stroke="#559436" stroke-width="0.5"/>
<line x1="450.90" y1="300.50" x2="450.90" y2="303.50" stroke="#2a2a2a" stroke-width="1"/>
<line x1="445.00" y1="260.20" x2="445.00" y2="257.50" stroke="#505050" stroke-width="1.0"/>
<line x1="443.40" y1="257.00" x2="446.60" y2="257.00" stroke="#262626" stroke-width="1.25"/>
<rect x="443.25" y="260.45" width="3.50" height="40.05" fill="#a50030" stroke="#8c0026" stroke-width="0.5"/>
<line x1="450.90" y1="254.10" x2="450.90" y2="249.90" stroke="#505050" stroke-width="1.0"/>
<line x1="449.30" y1="249.40" x2="452.50" y2="249.40" stroke="#262626" stroke-width="1.25"/>
<rect x="449.15" y="254.35" width="3.50" height="46.15" fill="#2c4c80" stroke="#1d3a72" stroke-width="0.5"/>
<line x1="456.80" y1="255.80" x2="456.80" y2="252.50" stroke="#505050" stroke-width="1.0"/>
<line x1="455.20" y1="252.00" x2="458.40" y2="252.00" stroke="#262626" stroke-width="1.25"/>
<rect x="455.05" y="256.05" width="3.50" height="44.45" fill="#68a942" stroke="#559436" stroke-width="0.5"/>
<line x1="398.50" y1="236.80" x2="411.50" y2="236.80" stroke="#222" stroke-width="1.0"/>
<line x1="398.50" y1="234.60" x2="398.50" y2="239.00" stroke="#222" stroke-width="1.0"/>
<line x1="411.50" y1="234.60" x2="411.50" y2="239.00" stroke="#222" stroke-width="1.0"/>
<circle cx="403.10" cy="232.70" r="1.0" fill="#151515"/>
<circle cx="406.10" cy="232.70" r="1.0" fill="#151515"/>
<rect x="386.20" y="187.20" width="9.60" height="5.60" fill="#a50030"/>
<text x="0" y="0" font-size="7.4" text-anchor="start" font-weight="normal" fill="#231f20" transform="translate(399.00,192.60)" >Vehicle</text>
<rect x="386.20" y="199.20" width="9.60" height="5.60" fill="#2c4c80"/>
<text x="0" y="0" font-size="7.4" text-anchor="start" font-weight="normal" fill="#231f20" transform="translate(399.00,204.60)" >0.1 mg/kg MnBuOE</text>
<rect x="386.20" y="210.50" width="9.60" height="5.60" fill="#68a942"/>
<text x="0" y="0" font-size="7.4" text-anchor="start" font-weight="normal" fill="#231f20" transform="translate(399.00,215.90)" >1 mg/kg MnE</text>
<text x="0" y="0" font-size="9" text-anchor="middle" font-weight="normal" fill="#231f20" textLength="84.6" lengthAdjust="spacingAndGlyphs" transform="translate(345.20,258.30) rotate(-90)" style="stroke-width:0.38px">P-selectin mRNA expression</text>
<text x="0" y="0" font-size="9" text-anchor="middle" font-weight="normal" fill="#231f20" textLength="52.4" lengthAdjust="spacingAndGlyphs" transform="translate(355.60,258.30) rotate(-90)" style="stroke-width:0.38px">(relative to 36B4)</text>
<text x="0" y="0" font-size="8" text-anchor="end" font-weight="normal" fill="#231f20" transform="translate(392.20,311.60) rotate(-45)" >Lungs</text>
<text x="0" y="0" font-size="8" text-anchor="end" font-weight="normal" fill="#231f20" transform="translate(413.20,311.60) rotate(-45)" >Kidneys</text>
<text x="0" y="0" font-size="8" text-anchor="end" font-weight="normal" fill="#231f20" transform="translate(433.70,311.60) rotate(-45)" >Liver</text>
<text x="0" y="0" font-size="8" text-anchor="end" font-weight="normal" fill="#231f20" transform="translate(454.30,311.60) rotate(-45)" >Spleen</text>
<text x="0" y="0" font-size="11" text-anchor="start" font-weight="bold" fill="#000" transform="translate(7.40,358.70)" style="stroke:#000;stroke-width:0.35px">G</text>
<text x="0" y="0" font-size="8.1" text-anchor="start" font-weight="normal" fill="#231f20" transform="translate(20.00,383.40)" >ICAM-1</text>
<text x="0" y="0" font-size="8.1" text-anchor="end" font-weight="normal" fill="#231f20" transform="translate(89.50,383.40)" >92 KD</text>
<line x1="93.00" y1="380.50" x2="100.00" y2="380.50" stroke="#111" stroke-width="1.4"/>
<text x="0" y="0" font-size="8.1" text-anchor="start" font-weight="normal" fill="#231f20" transform="translate(20.00,399.10)" >GAPDH</text>
<text x="0" y="0" font-size="8.1" text-anchor="end" font-weight="normal" fill="#231f20" transform="translate(89.50,399.10)" >36 KD</text>
<line x1="93.00" y1="396.20" x2="100.00" y2="396.20" stroke="#111" stroke-width="1.4"/>
<text x="0" y="0" font-size="8.1" text-anchor="start" font-weight="normal" fill="#231f20" transform="translate(20.00,417.40)" >VCAM-1</text>
<text x="0" y="0" font-size="8.1" text-anchor="end" font-weight="normal" fill="#231f20" transform="translate(89.50,417.40)" >100 KD</text>
<line x1="93.00" y1="414.50" x2="100.00" y2="414.50" stroke="#111" stroke-width="1.4"/>
<text x="0" y="0" font-size="8.1" text-anchor="start" font-weight="normal" fill="#231f20" transform="translate(20.00,430.40)" >GAPDH</text>
<text x="0" y="0" font-size="8.1" text-anchor="end" font-weight="normal" fill="#231f20" transform="translate(89.50,430.40)" >36 KD</text>
<line x1="93.00" y1="427.50" x2="100.00" y2="427.50" stroke="#111" stroke-width="1.4"/>
<text x="0" y="0" font-size="8.1" text-anchor="start" font-weight="normal" fill="#231f20" transform="translate(20.00,447.90)" >P-selection</text>
<text x="0" y="0" font-size="8.1" text-anchor="end" font-weight="normal" fill="#231f20" transform="translate(89.50,447.90)" >86 KD</text>
<line x1="93.00" y1="445.00" x2="100.00" y2="445.00" stroke="#111" stroke-width="1.4"/>
<text x="0" y="0" font-size="8.1" text-anchor="start" font-weight="normal" fill="#231f20" transform="translate(20.00,461.10)" >GAPDH</text>
<text x="0" y="0" font-size="8.1" text-anchor="end" font-weight="normal" fill="#231f20" transform="translate(89.50,461.10)" >36 KD</text>
<line x1="93.00" y1="458.20" x2="100.00" y2="458.20" stroke="#111" stroke-width="1.4"/>
<text x="0" y="0" font-size="8" text-anchor="middle" font-weight="normal" fill="#231f20" transform="translate(122.20,368.80)" >Vehicle</text>
<text x="0" y="0" font-size="8" text-anchor="middle" font-weight="normal" fill="#231f20" transform="translate(163.00,368.80)" >MnBuOE</text>
<text x="0" y="0" font-size="8" text-anchor="middle" font-weight="normal" fill="#231f20" transform="translate(204.20,368.80)" >MnE</text>
<line x1="105.00" y1="373.60" x2="140.00" y2="373.60" stroke="#222" stroke-width="1.2"/>
<line x1="145.30" y1="373.60" x2="180.30" y2="373.60" stroke="#222" stroke-width="1.2"/>
<line x1="186.80" y1="373.60" x2="220.80" y2="373.60" stroke="#222" stroke-width="1.2"/>
<line x1="227.00" y1="375.60" x2="227.00" y2="457.80" stroke="#222" stroke-width="1.1"/>
<text x="0" y="0" font-size="7.8" text-anchor="start" font-weight="normal" fill="#231f20" transform="translate(230.00,403.30)" >Lung</text>
<g filter="url(#blur)">
<rect x="102.35" y="377.50" width="12.50" height="10.50" fill="rgb(242,242,242)"/>
<rect x="116.01" y="377.50" width="12.50" height="10.50" fill="rgb(242,242,242)"/>
<rect x="129.67" y="377.50" width="12.50" height="10.50" fill="rgb(242,242,242)"/>
<rect x="143.33" y="377.50" width="12.50" height="10.50" fill="rgb(242,242,242)"/>
<rect x="156.99" y="377.50" width="12.50" height="10.50" fill="rgb(242,242,242)"/>
<rect x="170.65" y="377.50" width="12.50" height="10.50" fill="rgb(242,242,242)"/>
<rect x="184.31" y="377.50" width="12.50" height="10.50" fill="rgb(242,242,242)"/>
<rect x="197.97" y="377.50" width="12.50" height="10.50" fill="rgb(242,242,242)"/>
<rect x="211.63" y="377.50" width="12.50" height="10.50" fill="rgb(242,242,242)"/>
<rect x="102.35" y="392.00" width="12.50" height="11.00" fill="rgb(246,246,246)"/>
<rect x="116.01" y="392.00" width="12.50" height="11.00" fill="rgb(246,246,246)"/>
<rect x="129.67" y="392.00" width="12.50" height="11.00" fill="rgb(246,246,246)"/>
<rect x="143.33" y="392.00" width="12.50" height="11.00" fill="rgb(246,246,246)"/>
<rect x="156.99" y="392.00" width="12.50" height="11.00" fill="rgb(246,246,246)"/>
<rect x="170.65" y="392.00" width="12.50" height="11.00" fill="rgb(246,246,246)"/>
<rect x="184.31" y="392.00" width="12.50" height="11.00" fill="rgb(246,246,246)"/>
<rect x="197.97" y="392.00" width="12.50" height="11.00" fill="rgb(246,246,246)"/>
<rect x="211.63" y="392.00" width="12.50" height="11.00" fill="rgb(246,246,246)"/>
<rect x="102.35" y="410.00" width="12.50" height="11.00" fill="rgb(242,242,242)"/>
<rect x="116.01" y="410.00" width="12.50" height="11.00" fill="rgb(242,242,242)"/>
<rect x="129.67" y="410.00" width="12.50" height="11.00" fill="rgb(242,242,242)"/>
<rect x="143.33" y="410.00" width="12.50" height="11.00" fill="rgb(242,242,242)"/>
<rect x="156.99" y="410.00" width="12.50" height="11.00" fill="rgb(242,242,242)"/>
<rect x="170.65" y="410.00" width="12.50" height="11.00" fill="rgb(242,242,242)"/>
<rect x="184.31" y="410.00" width="12.50" height="11.00" fill="rgb(242,242,242)"/>
<rect x="197.97" y="410.00" width="12.50" height="11.00" fill="rgb(242,242,242)"/>
<rect x="211.63" y="410.00" width="12.50" height="11.00" fill="rgb(242,242,242)"/>
<rect x="102.35" y="424.00" width="12.50" height="11.00" fill="rgb(246,246,246)"/>
<rect x="116.01" y="424.00" width="12.50" height="11.00" fill="rgb(246,246,246)"/>
<rect x="129.67" y="424.00" width="12.50" height="11.00" fill="rgb(246,246,246)"/>
<rect x="143.33" y="424.00" width="12.50" height="11.00" fill="rgb(246,246,246)"/>
<rect x="156.99" y="424.00" width="12.50" height="11.00" fill="rgb(246,246,246)"/>
<rect x="170.65" y="424.00" width="12.50" height="11.00" fill="rgb(246,246,246)"/>
<rect x="184.31" y="424.00" width="12.50" height="11.00" fill="rgb(246,246,246)"/>
<rect x="197.97" y="424.00" width="12.50" height="11.00" fill="rgb(246,246,246)"/>
<rect x="211.63" y="424.00" width="12.50" height="11.00" fill="rgb(246,246,246)"/>
<rect x="102.35" y="453.00" width="12.50" height="9.00" fill="rgb(248,248,248)"/>
<rect x="116.01" y="453.00" width="12.50" height="9.00" fill="rgb(248,248,248)"/>
<rect x="129.67" y="453.00" width="12.50" height="9.00" fill="rgb(248,248,248)"/>
<rect x="143.33" y="453.00" width="12.50" height="9.00" fill="rgb(248,248,248)"/>
<rect x="156.99" y="453.00" width="12.50" height="9.00" fill="rgb(248,248,248)"/>
<rect x="170.65" y="453.00" width="12.50" height="9.00" fill="rgb(248,248,248)"/>
<rect x="184.31" y="453.00" width="12.50" height="9.00" fill="rgb(248,248,248)"/>
<rect x="197.97" y="453.00" width="12.50" height="9.00" fill="rgb(248,248,248)"/>
<rect x="211.63" y="453.00" width="12.50" height="9.00" fill="rgb(248,248,248)"/>
<rect x="102.85" y="380.50" width="11.50" height="3.00" rx="1.50" fill="rgb(200,200,200)"/>
<rect x="103.85" y="381.25" width="9.50" height="1.50" rx="0.75" fill="rgb(192,192,192)"/>
<rect x="116.51" y="380.90" width="11.50" height="3.00" rx="1.50" fill="rgb(80,80,80)"/>
<rect x="117.51" y="381.65" width="9.50" height="1.50" rx="0.75" fill="rgb(54,54,54)"/>
<rect x="130.17" y="381.20" width="11.50" height="3.00" rx="1.50" fill="rgb(175,175,175)"/>
<rect x="131.17" y="381.95" width="9.50" height="1.50" rx="0.75" fill="rgb(163,163,163)"/>
<rect x="143.83" y="381.50" width="11.50" height="3.00" rx="1.50" fill="rgb(18,18,18)"/>
<rect x="144.83" y="382.25" width="9.50" height="1.50" rx="0.75" fill="rgb(5,5,5)"/>
<rect x="157.49" y="381.50" width="11.50" height="3.00" rx="1.50" fill="rgb(55,55,55)"/>
<rect x="158.49" y="382.25" width="9.50" height="1.50" rx="0.75" fill="rgb(25,25,25)"/>
<rect x="171.15" y="381.30" width="11.50" height="3.00" rx="1.50" fill="rgb(55,55,55)"/>
<rect x="172.15" y="382.05" width="9.50" height="1.50" rx="0.75" fill="rgb(25,25,25)"/>
<rect x="184.81" y="381.10" width="11.50" height="3.00" rx="1.50" fill="rgb(150,150,150)"/>
<rect x="185.81" y="381.85" width="9.50" height="1.50" rx="0.75" fill="rgb(134,134,134)"/>
<rect x="198.47" y="381.10" width="11.50" height="3.00" rx="1.50" fill="rgb(185,185,185)"/>
<rect x="199.47" y="381.85" width="9.50" height="1.50" rx="0.75" fill="rgb(174,174,174)"/>
<rect x="212.13" y="380.90" width="11.50" height="3.00" rx="1.50" fill="rgb(118,118,118)"/>
<rect x="213.13" y="381.65" width="9.50" height="1.50" rx="0.75" fill="rgb(97,97,97)"/>
<polyline points="102.00,396.40 110.00,396.80 116.00,397.60 130.00,397.60 150.00,397.40 175.00,397.60 200.00,397.50 214.00,397.60 219.00,397.00 223.00,395.80" fill="none" stroke="rgb(5,5,5)" stroke-width="4.30" stroke-linecap="round" stroke-linejoin="round"/>
<rect x="102.85" y="414.00" width="11.50" height="2.80" rx="1.40" fill="rgb(118,118,118)"/>
<rect x="103.85" y="414.70" width="9.50" height="1.40" rx="0.70" fill="rgb(97,97,97)"/>
<rect x="116.51" y="414.20" width="11.50" height="2.80" rx="1.40" fill="rgb(135,135,135)"/>
<rect x="117.51" y="414.90" width="9.50" height="1.40" rx="0.70" fill="rgb(117,117,117)"/>
<rect x="130.17" y="414.20" width="11.50" height="2.80" rx="1.40" fill="rgb(130,130,130)"/>
<rect x="131.17" y="414.90" width="9.50" height="1.40" rx="0.70" fill="rgb(111,111,111)"/>
<rect x="143.83" y="414.30" width="11.50" height="2.80" rx="1.40" fill="rgb(30,30,30)"/>
<rect x="144.83" y="415.00" width="9.50" height="1.40" rx="0.70" fill="rgb(5,5,5)"/>
<rect x="157.49" y="414.00" width="11.50" height="2.80" rx="1.40" fill="rgb(135,135,135)"/>
<rect x="158.49" y="414.70" width="9.50" height="1.40" rx="0.70" fill="rgb(117,117,117)"/>
<rect x="171.15" y="413.80" width="11.50" height="2.80" rx="1.40" fill="rgb(118,118,118)"/>
<rect x="172.15" y="414.50" width="9.50" height="1.40" rx="0.70" fill="rgb(97,97,97)"/>
<rect x="184.81" y="413.70" width="11.50" height="2.80" rx="1.40" fill="rgb(160,160,160)"/>
<rect x="185.81" y="414.40" width="9.50" height="1.40" rx="0.70" fill="rgb(146,146,146)"/>
<rect x="198.47" y="413.80" width="11.50" height="2.80" rx="1.40" fill="rgb(205,205,205)"/>
<rect x="199.47" y="414.50" width="9.50" height="1.40" rx="0.70" fill="rgb(198,198,198)"/>
<rect x="212.13" y="413.60" width="11.50" height="2.80" rx="1.40" fill="rgb(150,150,150)"/>
<rect x="213.13" y="414.30" width="9.50" height="1.40" rx="0.70" fill="rgb(134,134,134)"/>
<polyline points="102.00,428.60 112.00,429.00 118.00,429.60 150.00,429.40 180.00,429.20 210.00,429.20 218.00,429.00 222.00,426.50" fill="none" stroke="rgb(5,5,5)" stroke-width="4.20" stroke-linecap="round" stroke-linejoin="round"/>
<rect x="101" y="439.3" width="123" height="11.5" fill="rgb(180,180,180)"/>
<rect x="103" y="442.6" width="121" height="6.6" rx="2" fill="rgb(115,115,115)"/>
<rect x="104" y="442.0" width="9" height="7" rx="2" fill="rgb(80,80,80)"/>
<rect x="100.5" y="440.0" width="3.6" height="8" fill="rgb(5,5,5)"/>
<rect x="150" y="443.5" width="6" height="4.5" rx="2" fill="rgb(118,118,118)"/>
<rect x="166" y="443.5" width="6" height="4.5" rx="2" fill="rgb(100,100,100)"/>
<rect x="194" y="440.0" width="14" height="4" rx="1.5" fill="rgb(168,168,168)"/>
<rect x="193" y="442.8" width="15" height="7" rx="2.5" fill="rgb(25,25,25)"/>
<rect x="208" y="440.8" width="15.5" height="9.2" rx="2.5" fill="rgb(5,5,5)"/>
<polyline points="101.50,458.40 115.00,458.80 125.00,459.20 140.00,458.20 160.00,457.80 175.00,457.90 190.00,457.40 205.00,456.40 215.00,455.80 221.00,454.40" fill="none" stroke="rgb(5,5,5)" stroke-width="3.40" stroke-linecap="round" stroke-linejoin="round"/>
</g>
<text x="0" y="0" font-size="11" text-anchor="start" font-weight="bold" fill="#000" transform="translate(263.90,358.70)" style="stroke:#000;stroke-width:0.35px">H</text>
<text x="0" y="0" font-size="8.1" text-anchor="start" font-weight="normal" fill="#231f20" transform="translate(276.50,382.00)" >ICAM-1</text>
<text x="0" y="0" font-size="8.1" text-anchor="end" font-weight="normal" fill="#231f20" transform="translate(345.00,382.00)" >92 KD</text>
<line x1="351.20" y1="379.10" x2="357.50" y2="379.10" stroke="#111" stroke-width="1.4"/>
<text x="0" y="0" font-size="8.1" text-anchor="start" font-weight="normal" fill="#231f20" transform="translate(276.50,397.40)" >GAPDH</text>
<text x="0" y="0" font-size="8.1" text-anchor="end" font-weight="normal" fill="#231f20" transform="translate(345.00,397.40)" >36 KD</text>
<line x1="351.20" y1="394.50" x2="357.50" y2="394.50" stroke="#111" stroke-width="1.4"/>
<text x="0" y="0" font-size="8.1" text-anchor="start" font-weight="normal" fill="#231f20" transform="translate(276.50,414.80)" >VCAM-1</text>
<text x="0" y="0" font-size="8.1" text-anchor="end" font-weight="normal" fill="#231f20" transform="translate(345.00,414.80)" >100 KD</text>
<line x1="351.20" y1="411.90" x2="357.50" y2="411.90" stroke="#111" stroke-width="1.4"/>
<text x="0" y="0" font-size="8.1" text-anchor="start" font-weight="normal" fill="#231f20" transform="translate(276.50,429.40)" >GAPDH</text>
<text x="0" y="0" font-size="8.1" text-anchor="end" font-weight="normal" fill="#231f20" transform="translate(345.00,429.40)" >36 KD</text>
<line x1="351.20" y1="426.50" x2="357.50" y2="426.50" stroke="#111" stroke-width="1.4"/>
<text x="0" y="0" font-size="8.1" text-anchor="start" font-weight="normal" fill="#231f20" transform="translate(276.50,444.60)" >P-selection</text>
<text x="0" y="0" font-size="8.1" text-anchor="end" font-weight="normal" fill="#231f20" transform="translate(345.00,444.60)" >86 KD</text>
<line x1="351.20" y1="441.70" x2="357.50" y2="441.70" stroke="#111" stroke-width="1.4"/>
<text x="0" y="0" font-size="8.1" text-anchor="start" font-weight="normal" fill="#231f20" transform="translate(276.50,456.30)" >GAPDH</text>
<text x="0" y="0" font-size="8.1" text-anchor="end" font-weight="normal" fill="#231f20" transform="translate(345.00,456.30)" >36 KD</text>
<line x1="351.20" y1="453.40" x2="357.50" y2="453.40" stroke="#111" stroke-width="1.4"/>
<text x="0" y="0" font-size="8" text-anchor="middle" font-weight="normal" fill="#231f20" transform="translate(380.20,368.80)" >Vehicle</text>
<text x="0" y="0" font-size="8" text-anchor="middle" font-weight="normal" fill="#231f20" transform="translate(421.20,368.80)" >MnBuOE</text>
<text x="0" y="0" font-size="8" text-anchor="middle" font-weight="normal" fill="#231f20" transform="translate(460.00,368.80)" >MnE</text>
<line x1="363.20" y1="373.60" x2="397.50" y2="373.60" stroke="#222" stroke-width="1.2"/>
<line x1="403.50" y1="373.60" x2="438.00" y2="373.60" stroke="#222" stroke-width="1.2"/>
<line x1="443.80" y1="373.60" x2="477.50" y2="373.60" stroke="#222" stroke-width="1.2"/>
<line x1="486.30" y1="376.00" x2="486.30" y2="456.00" stroke="#222" stroke-width="1.1"/>
<text x="0" y="0" font-size="7.8" text-anchor="start" font-weight="normal" fill="#231f20" transform="translate(489.50,414.40)" >Kidney</text>
<g filter="url(#blur)">
<rect x="366.15" y="376.50" width="12.30" height="12.50" fill="rgb(244,244,244)"/>
<rect x="379.45" y="376.50" width="12.30" height="12.50" fill="rgb(244,244,244)"/>
<rect x="392.75" y="376.50" width="12.30" height="12.50" fill="rgb(244,244,244)"/>
<rect x="406.05" y="376.50" width="12.30" height="12.50" fill="rgb(244,244,244)"/>
<rect x="419.35" y="376.50" width="12.30" height="12.50" fill="rgb(244,244,244)"/>
<rect x="432.65" y="376.50" width="12.30" height="12.50" fill="rgb(244,244,244)"/>
<rect x="445.95" y="376.50" width="12.30" height="12.50" fill="rgb(244,244,244)"/>
<rect x="459.25" y="376.50" width="12.30" height="12.50" fill="rgb(244,244,244)"/>
<rect x="472.55" y="376.50" width="12.30" height="12.50" fill="rgb(244,244,244)"/>
<rect x="366.15" y="391.00" width="12.30" height="10.00" fill="rgb(248,248,248)"/>
<rect x="379.45" y="391.00" width="12.30" height="10.00" fill="rgb(248,248,248)"/>
<rect x="392.75" y="391.00" width="12.30" height="10.00" fill="rgb(248,248,248)"/>
<rect x="406.05" y="391.00" width="12.30" height="10.00" fill="rgb(248,248,248)"/>
<rect x="419.35" y="391.00" width="12.30" height="10.00" fill="rgb(248,248,248)"/>
<rect x="432.65" y="391.00" width="12.30" height="10.00" fill="rgb(248,248,248)"/>
<rect x="445.95" y="391.00" width="12.30" height="10.00" fill="rgb(248,248,248)"/>
<rect x="459.25" y="391.00" width="12.30" height="10.00" fill="rgb(248,248,248)"/>
<rect x="472.55" y="391.00" width="12.30" height="10.00" fill="rgb(248,248,248)"/>
<rect x="366.15" y="404.50" width="12.30" height="13.00" fill="rgb(205,205,205)"/>
<rect x="379.45" y="404.50" width="12.30" height="13.00" fill="rgb(205,205,205)"/>
<rect x="392.75" y="404.50" width="12.30" height="13.00" fill="rgb(205,205,205)"/>
<rect x="406.05" y="404.50" width="12.30" height="13.00" fill="rgb(205,205,205)"/>
<rect x="419.35" y="404.50" width="12.30" height="13.00" fill="rgb(205,205,205)"/>
<rect x="432.65" y="404.50" width="12.30" height="13.00" fill="rgb(205,205,205)"/>
<rect x="445.95" y="404.50" width="12.30" height="13.00" fill="rgb(205,205,205)"/>
<rect x="459.25" y="404.50" width="12.30" height="13.00" fill="rgb(205,205,205)"/>
<rect x="472.55" y="404.50" width="12.30" height="13.00" fill="rgb(205,205,205)"/>
<rect x="366.15" y="423.00" width="12.30" height="9.00" fill="rgb(248,248,248)"/>
<rect x="379.45" y="423.00" width="12.30" height="9.00" fill="rgb(248,248,248)"/>
<rect x="392.75" y="423.00" width="12.30" height="9.00" fill="rgb(248,248,248)"/>
<rect x="406.05" y="423.00" width="12.30" height="9.00" fill="rgb(248,248,248)"/>
<rect x="419.35" y="423.00" width="12.30" height="9.00" fill="rgb(248,248,248)"/>
<rect x="432.65" y="423.00" width="12.30" height="9.00" fill="rgb(248,248,248)"/>
<rect x="445.95" y="423.00" width="12.30" height="9.00" fill="rgb(248,248,248)"/>
<rect x="459.25" y="423.00" width="12.30" height="9.00" fill="rgb(248,248,248)"/>
<rect x="472.55" y="423.00" width="12.30" height="9.00" fill="rgb(248,248,248)"/>
<rect x="366.15" y="437.50" width="12.30" height="13.00" fill="rgb(200,200,200)"/>
<rect x="379.45" y="437.50" width="12.30" height="13.00" fill="rgb(200,200,200)"/>
<rect x="392.75" y="437.50" width="12.30" height="13.00" fill="rgb(200,200,200)"/>
<rect x="406.05" y="437.50" width="12.30" height="13.00" fill="rgb(200,200,200)"/>
<rect x="419.35" y="437.50" width="12.30" height="13.00" fill="rgb(200,200,200)"/>
<rect x="432.65" y="437.50" width="12.30" height="13.00" fill="rgb(200,200,200)"/>
<rect x="445.95" y="437.50" width="12.30" height="13.00" fill="rgb(200,200,200)"/>
<rect x="459.25" y="437.50" width="12.30" height="13.00" fill="rgb(200,200,200)"/>
<rect x="472.55" y="437.50" width="12.30" height="13.00" fill="rgb(200,200,200)"/>
<rect x="366.55" y="379.90" width="11.50" height="2.60" rx="1.30" fill="rgb(192,192,192)"/>
<rect x="379.85" y="379.90" width="11.50" height="2.60" rx="1.30" fill="rgb(175,175,175)"/>
<rect x="393.15" y="379.90" width="11.50" height="2.60" rx="1.30" fill="rgb(175,175,175)"/>
<rect x="406.45" y="379.90" width="11.50" height="2.60" rx="1.30" fill="rgb(235,235,235)"/>
<rect x="419.75" y="379.90" width="11.50" height="2.60" rx="1.30" fill="rgb(240,240,240)"/>
<rect x="433.05" y="379.90" width="11.50" height="2.60" rx="1.30" fill="rgb(235,235,235)"/>
<rect x="446.35" y="379.90" width="11.50" height="2.60" rx="1.30" fill="rgb(155,155,155)"/>
<rect x="459.65" y="379.90" width="11.50" height="2.60" rx="1.30" fill="rgb(155,155,155)"/>
<rect x="472.95" y="379.90" width="11.50" height="2.60" rx="1.30" fill="rgb(192,192,192)"/>
<polyline points="363.00,395.80 375.00,396.20 385.00,396.40 400.00,395.90 420.00,396.20 440.00,395.60 460.00,395.50 474.00,395.60 481.00,394.20" fill="none" stroke="rgb(18,18,18)" stroke-width="1.90" stroke-linecap="round" stroke-linejoin="round"/>
<rect x="366.00" y="409.00" width="12.60" height="4.00" rx="2.00" fill="rgb(80,80,80)"/>
<rect x="367.00" y="410.10" width="10.60" height="1.80" rx="0.90" fill="rgb(54,54,54)"/>
<rect x="379.30" y="409.00" width="12.60" height="4.00" rx="2.00" fill="rgb(100,100,100)"/>
<rect x="380.30" y="410.10" width="10.60" height="1.80" rx="0.90" fill="rgb(77,77,77)"/>
<rect x="392.60" y="409.00" width="12.60" height="4.00" rx="2.00" fill="rgb(100,100,100)"/>
<rect x="393.60" y="410.10" width="10.60" height="1.80" rx="0.90" fill="rgb(77,77,77)"/>
<rect x="405.90" y="409.00" width="12.60" height="4.00" rx="2.00" fill="rgb(175,175,175)"/>
<rect x="406.90" y="410.10" width="10.60" height="1.80" rx="0.90" fill="rgb(163,163,163)"/>
<rect x="419.20" y="409.00" width="12.60" height="4.00" rx="2.00" fill="rgb(195,195,195)"/>
<rect x="420.20" y="410.10" width="10.60" height="1.80" rx="0.90" fill="rgb(186,186,186)"/>
<rect x="432.50" y="409.00" width="12.60" height="4.00" rx="2.00" fill="rgb(180,180,180)"/>
<rect x="433.50" y="410.10" width="10.60" height="1.80" rx="0.90" fill="rgb(169,169,169)"/>
<rect x="445.80" y="409.00" width="12.60" height="4.00" rx="2.00" fill="rgb(85,85,85)"/>
<rect x="446.80" y="410.10" width="10.60" height="1.80" rx="0.90" fill="rgb(60,60,60)"/>
<rect x="459.10" y="409.00" width="12.60" height="4.00" rx="2.00" fill="rgb(130,130,130)"/>
<rect x="460.10" y="410.10" width="10.60" height="1.80" rx="0.90" fill="rgb(111,111,111)"/>
<rect x="472.40" y="409.00" width="12.60" height="4.00" rx="2.00" fill="rgb(135,135,135)"/>
<rect x="473.40" y="410.10" width="10.60" height="1.80" rx="0.90" fill="rgb(117,117,117)"/>
<polyline points="363.00,427.60 375.00,428.00 385.00,428.40 400.00,427.80 420.00,427.40 440.00,427.40 460.00,427.40 474.00,427.60 481.00,425.40" fill="none" stroke="rgb(5,5,5)" stroke-width="2.70" stroke-linecap="round" stroke-linejoin="round"/>
<rect x="365.65" y="439.70" width="13.30" height="7.00" rx="2.00" fill="rgb(42,42,42)"/>
<rect x="366.65" y="441.27" width="11.30" height="3.85" rx="1.93" fill="rgb(11,11,11)"/>
<rect x="378.95" y="439.70" width="13.30" height="7.00" rx="2.00" fill="rgb(68,68,68)"/>
<rect x="379.95" y="441.27" width="11.30" height="3.85" rx="1.93" fill="rgb(39,39,39)"/>
<rect x="392.25" y="439.70" width="13.30" height="7.00" rx="2.00" fill="rgb(68,68,68)"/>
<rect x="393.25" y="441.27" width="11.30" height="3.85" rx="1.93" fill="rgb(39,39,39)"/>
<rect x="405.55" y="439.70" width="13.30" height="7.00" rx="2.00" fill="rgb(160,160,160)"/>
<rect x="406.55" y="441.27" width="11.30" height="3.85" rx="1.93" fill="rgb(146,146,146)"/>
<rect x="418.85" y="439.70" width="13.30" height="7.00" rx="2.00" fill="rgb(135,135,135)"/>
<rect x="419.85" y="441.27" width="11.30" height="3.85" rx="1.93" fill="rgb(117,117,117)"/>
<rect x="432.15" y="439.70" width="13.30" height="7.00" rx="2.00" fill="rgb(118,118,118)"/>
<rect x="433.15" y="441.27" width="11.30" height="3.85" rx="1.93" fill="rgb(97,97,97)"/>
<rect x="445.45" y="439.70" width="13.30" height="7.00" rx="2.00" fill="rgb(25,25,25)"/>
<rect x="446.45" y="441.27" width="11.30" height="3.85" rx="1.93" fill="rgb(5,5,5)"/>
<rect x="458.75" y="439.70" width="13.30" height="7.00" rx="2.00" fill="rgb(25,25,25)"/>
<rect x="459.75" y="441.27" width="11.30" height="3.85" rx="1.93" fill="rgb(5,5,5)"/>
<rect x="472.05" y="439.70" width="13.30" height="7.00" rx="2.00" fill="rgb(25,25,25)"/>
<rect x="473.05" y="441.27" width="11.30" height="3.85" rx="1.93" fill="rgb(5,5,5)"/>
<rect x="362" y="439" width="4" height="9" fill="rgb(5,5,5)"/>
<polyline points="362.50,454.20 375.00,454.60 390.00,455.20 405.00,455.60 420.00,455.60 440.00,455.80 455.00,456.00 470.00,455.80 478.00,455.00 482.00,453.80" fill="none" stroke="rgb(5,5,5)" stroke-width="2.90" stroke-linecap="round" stroke-linejoin="round"/>
</g>
<text x="0" y="0" font-size="11" text-anchor="start" font-weight="bold" fill="#000" transform="translate(7.90,497.00)" style="stroke:#000;stroke-width:0.35px">I</text>
<line x1="86.20" y1="514.00" x2="86.20" y2="614.80" stroke="#2a2a2a" stroke-width="1.1"/>
<line x1="85.70" y1="614.30" x2="210.40" y2="614.30" stroke="#2a2a2a" stroke-width="1.1"/>
<line x1="83.70" y1="607.20" x2="86.20" y2="607.20" stroke="#2a2a2a" stroke-width="1"/>
<text x="0" y="0" font-size="8.7" text-anchor="end" font-weight="normal" fill="#231f20" transform="translate(80.00,610.40)" >0</text>
<line x1="83.70" y1="577.70" x2="86.20" y2="577.70" stroke="#2a2a2a" stroke-width="1"/>
<text x="0" y="0" font-size="8.7" text-anchor="end" font-weight="normal" fill="#231f20" transform="translate(80.00,580.90)" >20000</text>
<line x1="83.70" y1="548.20" x2="86.20" y2="548.20" stroke="#2a2a2a" stroke-width="1"/>
<text x="0" y="0" font-size="8.7" text-anchor="end" font-weight="normal" fill="#231f20" transform="translate(80.00,551.40)" >40000</text>
<line x1="83.70" y1="518.70" x2="86.20" y2="518.70" stroke="#2a2a2a" stroke-width="1"/>
<text x="0" y="0" font-size="8.7" text-anchor="end" font-weight="normal" fill="#231f20" transform="translate(80.00,521.90)" >60000</text>
<line x1="95.20" y1="564.25" x2="95.20" y2="558.00" stroke="#505050" stroke-width="1.0"/>
<line x1="92.70" y1="557.50" x2="97.70" y2="557.50" stroke="#262626" stroke-width="1.25"/>
<rect x="91.45" y="564.50" width="7.50" height="49.80" fill="#a50030" stroke="#8c0026" stroke-width="0.5"/>
<line x1="95.20" y1="614.30" x2="95.20" y2="617.80" stroke="#2a2a2a" stroke-width="1"/>
<line x1="108.44" y1="593.00" x2="108.44" y2="586.70" stroke="#505050" stroke-width="1.0"/>
<line x1="105.94" y1="586.20" x2="110.94" y2="586.20" stroke="#262626" stroke-width="1.25"/>
<rect x="104.69" y="593.25" width="7.50" height="21.05" fill="#2c4c80" stroke="#1d3a72" stroke-width="0.5"/>
<line x1="108.44" y1="614.30" x2="108.44" y2="617.80" stroke="#2a2a2a" stroke-width="1"/>
<line x1="121.68" y1="593.75" x2="121.68" y2="586.00" stroke="#505050" stroke-width="1.0"/>
<line x1="119.18" y1="585.50" x2="124.18" y2="585.50" stroke="#262626" stroke-width="1.25"/>
<rect x="117.93" y="594.00" width="7.50" height="20.30" fill="#68a942" stroke="#559436" stroke-width="0.5"/>
<line x1="121.68" y1="614.30" x2="121.68" y2="617.80" stroke="#2a2a2a" stroke-width="1"/>
<line x1="134.92" y1="540.75" x2="134.92" y2="523.75" stroke="#505050" stroke-width="1.0"/>
<line x1="132.42" y1="523.25" x2="137.42" y2="523.25" stroke="#262626" stroke-width="1.25"/>
<rect x="131.17" y="541.00" width="7.50" height="73.30" fill="#a50030" stroke="#8c0026" stroke-width="0.5"/>
<line x1="134.92" y1="614.30" x2="134.92" y2="617.80" stroke="#2a2a2a" stroke-width="1"/>
<line x1="148.16" y1="591.75" x2="148.16" y2="586.75" stroke="#505050" stroke-width="1.0"/>
<line x1="145.66" y1="586.25" x2="150.66" y2="586.25" stroke="#262626" stroke-width="1.25"/>
<rect x="144.41" y="592.00" width="7.50" height="22.30" fill="#2c4c80" stroke="#1d3a72" stroke-width="0.5"/>
<line x1="148.16" y1="614.30" x2="148.16" y2="617.80" stroke="#2a2a2a" stroke-width="1"/>
<line x1="161.40" y1="580.90" x2="161.40" y2="568.80" stroke="#505050" stroke-width="1.0"/>
<line x1="158.90" y1="568.30" x2="163.90" y2="568.30" stroke="#262626" stroke-width="1.25"/>
<rect x="157.65" y="581.15" width="7.50" height="33.15" fill="#68a942" stroke="#559436" stroke-width="0.5"/>
<line x1="161.40" y1="614.30" x2="161.40" y2="617.80" stroke="#2a2a2a" stroke-width="1"/>
<line x1="174.64" y1="559.50" x2="174.64" y2="555.10" stroke="#505050" stroke-width="1.0"/>
<line x1="172.14" y1="554.60" x2="177.14" y2="554.60" stroke="#262626" stroke-width="1.25"/>
<rect x="170.89" y="559.75" width="7.50" height="54.55" fill="#a50030" stroke="#8c0026" stroke-width="0.5"/>
<line x1="174.64" y1="614.30" x2="174.64" y2="617.80" stroke="#2a2a2a" stroke-width="1"/>
<line x1="187.88" y1="554.10" x2="187.88" y2="548.40" stroke="#505050" stroke-width="1.0"/>
<line x1="185.38" y1="547.90" x2="190.38" y2="547.90" stroke="#262626" stroke-width="1.25"/>
<rect x="184.13" y="554.35" width="7.50" height="59.95" fill="#2c4c80" stroke="#1d3a72" stroke-width="0.5"/>
<line x1="187.88" y1="614.30" x2="187.88" y2="617.80" stroke="#2a2a2a" stroke-width="1"/>
<line x1="201.12" y1="545.30" x2="201.12" y2="532.50" stroke="#505050" stroke-width="1.0"/>
<line x1="198.62" y1="532.00" x2="203.62" y2="532.00" stroke="#262626" stroke-width="1.25"/>
<rect x="197.37" y="545.55" width="7.50" height="68.75" fill="#68a942" stroke="#559436" stroke-width="0.5"/>
<line x1="201.12" y1="614.30" x2="201.12" y2="617.80" stroke="#2a2a2a" stroke-width="1"/>
<line x1="93.00" y1="543.25" x2="121.25" y2="543.25" stroke="#222" stroke-width="1.0"/>
<line x1="93.00" y1="541.05" x2="93.00" y2="545.45" stroke="#222" stroke-width="1.0"/>
<line x1="121.25" y1="541.05" x2="121.25" y2="545.45" stroke="#222" stroke-width="1.0"/>
<circle cx="106.25" cy="539.15" r="1.0" fill="#151515"/>
<line x1="93.00" y1="551.25" x2="109.25" y2="551.25" stroke="#222" stroke-width="1.0"/>
<line x1="93.00" y1="549.05" x2="93.00" y2="553.45" stroke="#222" stroke-width="1.0"/>
<line x1="109.25" y1="549.05" x2="109.25" y2="553.45" stroke="#222" stroke-width="1.0"/>
<circle cx="101.25" cy="547.15" r="1.0" fill="#151515"/>
<line x1="130.00" y1="518.25" x2="147.50" y2="518.25" stroke="#222" stroke-width="1.0"/>
<line x1="130.00" y1="516.05" x2="130.00" y2="520.45" stroke="#222" stroke-width="1.0"/>
<line x1="147.50" y1="516.05" x2="147.50" y2="520.45" stroke="#222" stroke-width="1.0"/>
<circle cx="138.25" cy="514.15" r="1.0" fill="#151515"/>
<text x="0" y="0" font-size="7.2" text-anchor="middle" font-weight="normal" fill="#231f20" transform="translate(106.90,503.60)" >ICAM-1</text>
<text x="0" y="0" font-size="7.2" text-anchor="middle" font-weight="normal" fill="#231f20" transform="translate(147.75,503.60)" >VCAM-1</text>
<text x="0" y="0" font-size="7.2" text-anchor="middle" font-weight="normal" fill="#231f20" transform="translate(187.90,503.60)" >P-selectin</text>
<line x1="89.75" y1="509.30" x2="126.00" y2="509.30" stroke="#111" stroke-width="1.1"/>
<path d="M88.75,509.3 l4.6,-2.2 l-1.1,2.2 l1.1,2.2 Z M127.00,509.3 l-4.6,-2.2 l1.1,2.2 l-1.1,2.2 Z" fill="#111" stroke="#111" stroke-width="0.3"/>
<line x1="131.00" y1="509.30" x2="165.25" y2="509.30" stroke="#111" stroke-width="1.1"/>
<path d="M130.00,509.3 l4.6,-2.2 l-1.1,2.2 l1.1,2.2 Z M166.25,509.3 l-4.6,-2.2 l1.1,2.2 l-1.1,2.2 Z" fill="#111" stroke="#111" stroke-width="0.3"/>
<line x1="169.75" y1="509.30" x2="205.25" y2="509.30" stroke="#111" stroke-width="1.1"/>
<path d="M168.75,509.3 l4.6,-2.2 l-1.1,2.2 l1.1,2.2 Z M206.25,509.3 l-4.6,-2.2 l1.1,2.2 l-1.1,2.2 Z" fill="#111" stroke="#111" stroke-width="0.3"/>
<text x="0" y="0" font-size="9.2" text-anchor="middle" font-weight="normal" fill="#231f20" transform="translate(148.25,488.80)" >Lungs</text>
<text x="0" y="0" font-size="9" text-anchor="end" font-weight="normal" fill="#231f20" textLength="54.4" lengthAdjust="spacingAndGlyphs" transform="translate(27.40,534.50) rotate(-90)" style="stroke-width:0.38px">Protein expression</text>
<text x="0" y="0" font-size="9" text-anchor="end" font-weight="normal" fill="#231f20" textLength="53.4" lengthAdjust="spacingAndGlyphs" transform="translate(38.20,534.50) rotate(-90)" style="stroke-width:0.38px">integrated density</text>
<text x="0" y="0" font-size="9" text-anchor="end" font-weight="normal" fill="#231f20" textLength="58.8" lengthAdjust="spacingAndGlyphs" transform="translate(49.30,534.50) rotate(-90)" style="stroke-width:0.38px">(relative to GAPDH)</text>
<text x="0" y="0" font-size="8" text-anchor="end" font-weight="normal" fill="#231f20" transform="translate(97.80,624.50) rotate(-45)" >Vehicle</text>
<text x="0" y="0" font-size="8" text-anchor="end" font-weight="normal" fill="#231f20" transform="translate(111.04,624.50) rotate(-45)" >MnBuOE 0.1 mg/kg</text>
<text x="0" y="0" font-size="8" text-anchor="end" font-weight="normal" fill="#231f20" transform="translate(124.28,624.50) rotate(-45)" >MnE 1 mg/kg</text>
<text x="0" y="0" font-size="8" text-anchor="end" font-weight="normal" fill="#231f20" transform="translate(137.52,624.50) rotate(-45)" >Vehicle</text>
<text x="0" y="0" font-size="8" text-anchor="end" font-weight="normal" fill="#231f20" transform="translate(150.76,624.50) rotate(-45)" >MnBuOE 0.1 mg/kg</text>
<text x="0" y="0" font-size="8" text-anchor="end" font-weight="normal" fill="#231f20" transform="translate(164.00,624.50) rotate(-45)" >MnE 1 mg/kg</text>
<text x="0" y="0" font-size="8" text-anchor="end" font-weight="normal" fill="#231f20" transform="translate(177.24,624.50) rotate(-45)" >Vehicle</text>
<text x="0" y="0" font-size="8" text-anchor="end" font-weight="normal" fill="#231f20" transform="translate(190.48,624.50) rotate(-45)" >MnBuOE 0.1 mg/kg</text>
<text x="0" y="0" font-size="8" text-anchor="end" font-weight="normal" fill="#231f20" transform="translate(203.72,624.50) rotate(-45)" >MnE 1 mg/kg</text>
<text x="0" y="0" font-size="11" text-anchor="start" font-weight="bold" fill="#000" transform="translate(263.40,497.00)" style="stroke:#000;stroke-width:0.35px">J</text>
<line x1="342.30" y1="518.00" x2="342.30" y2="615.10" stroke="#2a2a2a" stroke-width="1.1"/>
<line x1="341.80" y1="614.60" x2="466.20" y2="614.60" stroke="#2a2a2a" stroke-width="1.1"/>
<line x1="339.80" y1="614.60" x2="342.30" y2="614.60" stroke="#2a2a2a" stroke-width="1"/>
<text x="0" y="0" font-size="8.7" text-anchor="end" font-weight="normal" fill="#231f20" transform="translate(335.50,617.80)" >0</text>
<line x1="339.80" y1="590.90" x2="342.30" y2="590.90" stroke="#2a2a2a" stroke-width="1"/>
<text x="0" y="0" font-size="8.7" text-anchor="end" font-weight="normal" fill="#231f20" transform="translate(335.50,594.10)" >20000</text>
<line x1="339.80" y1="567.20" x2="342.30" y2="567.20" stroke="#2a2a2a" stroke-width="1"/>
<text x="0" y="0" font-size="8.7" text-anchor="end" font-weight="normal" fill="#231f20" transform="translate(335.50,570.40)" >40000</text>
<line x1="339.80" y1="543.50" x2="342.30" y2="543.50" stroke="#2a2a2a" stroke-width="1"/>
<text x="0" y="0" font-size="8.7" text-anchor="end" font-weight="normal" fill="#231f20" transform="translate(335.50,546.70)" >60000</text>
<line x1="339.80" y1="519.80" x2="342.30" y2="519.80" stroke="#2a2a2a" stroke-width="1"/>
<text x="0" y="0" font-size="8.7" text-anchor="end" font-weight="normal" fill="#231f20" transform="translate(335.50,523.00)" >80000</text>
<line x1="351.00" y1="600.50" x2="351.00" y2="599.00" stroke="#505050" stroke-width="1.0"/>
<line x1="348.50" y1="598.50" x2="353.50" y2="598.50" stroke="#262626" stroke-width="1.25"/>
<rect x="347.25" y="600.75" width="7.50" height="13.85" fill="#a50030" stroke="#8c0026" stroke-width="0.5"/>
<line x1="351.00" y1="614.60" x2="351.00" y2="618.10" stroke="#2a2a2a" stroke-width="1"/>
<line x1="364.22" y1="610.30" x2="364.22" y2="609.00" stroke="#505050" stroke-width="1.0"/>
<line x1="361.72" y1="608.50" x2="366.72" y2="608.50" stroke="#262626" stroke-width="1.25"/>
<rect x="360.47" y="610.55" width="7.50" height="4.05" fill="#2c4c80" stroke="#1d3a72" stroke-width="0.5"/>
<line x1="364.22" y1="614.60" x2="364.22" y2="618.10" stroke="#2a2a2a" stroke-width="1"/>
<line x1="377.44" y1="606.60" x2="377.44" y2="604.70" stroke="#505050" stroke-width="1.0"/>
<line x1="374.94" y1="604.20" x2="379.94" y2="604.20" stroke="#262626" stroke-width="1.25"/>
<rect x="373.69" y="606.85" width="7.50" height="7.75" fill="#68a942" stroke="#559436" stroke-width="0.5"/>
<line x1="377.44" y1="614.60" x2="377.44" y2="618.10" stroke="#2a2a2a" stroke-width="1"/>
<line x1="390.66" y1="545.75" x2="390.66" y2="538.50" stroke="#505050" stroke-width="1.0"/>
<line x1="388.16" y1="538.00" x2="393.16" y2="538.00" stroke="#262626" stroke-width="1.25"/>
<rect x="386.91" y="546.00" width="7.50" height="68.60" fill="#a50030" stroke="#8c0026" stroke-width="0.5"/>
<line x1="390.66" y1="614.60" x2="390.66" y2="618.10" stroke="#2a2a2a" stroke-width="1"/>
<line x1="403.88" y1="583.30" x2="403.88" y2="581.50" stroke="#505050" stroke-width="1.0"/>
<line x1="401.38" y1="581.00" x2="406.38" y2="581.00" stroke="#262626" stroke-width="1.25"/>
<rect x="400.13" y="583.55" width="7.50" height="31.05" fill="#2c4c80" stroke="#1d3a72" stroke-width="0.5"/>
<line x1="403.88" y1="614.60" x2="403.88" y2="618.10" stroke="#2a2a2a" stroke-width="1"/>
<line x1="417.10" y1="571.00" x2="417.10" y2="567.00" stroke="#505050" stroke-width="1.0"/>
<line x1="414.60" y1="566.50" x2="419.60" y2="566.50" stroke="#262626" stroke-width="1.25"/>
<rect x="413.35" y="571.25" width="7.50" height="43.35" fill="#68a942" stroke="#559436" stroke-width="0.5"/>
<line x1="417.10" y1="614.60" x2="417.10" y2="618.10" stroke="#2a2a2a" stroke-width="1"/>
<line x1="430.32" y1="556.20" x2="430.32" y2="553.50" stroke="#505050" stroke-width="1.0"/>
<line x1="427.82" y1="553.00" x2="432.82" y2="553.00" stroke="#262626" stroke-width="1.25"/>
<rect x="426.57" y="556.45" width="7.50" height="58.15" fill="#a50030" stroke="#8c0026" stroke-width="0.5"/>
<line x1="430.32" y1="614.60" x2="430.32" y2="618.10" stroke="#2a2a2a" stroke-width="1"/>
<line x1="443.54" y1="577.00" x2="443.54" y2="574.30" stroke="#505050" stroke-width="1.0"/>
<line x1="441.04" y1="573.80" x2="446.04" y2="573.80" stroke="#262626" stroke-width="1.25"/>
<rect x="439.79" y="577.25" width="7.50" height="37.35" fill="#2c4c80" stroke="#1d3a72" stroke-width="0.5"/>
<line x1="443.54" y1="614.60" x2="443.54" y2="618.10" stroke="#2a2a2a" stroke-width="1"/>
<line x1="456.76" y1="563.00" x2="456.76" y2="559.30" stroke="#505050" stroke-width="1.0"/>
<line x1="454.26" y1="558.80" x2="459.26" y2="558.80" stroke="#262626" stroke-width="1.25"/>
<rect x="453.01" y="563.25" width="7.50" height="51.35" fill="#68a942" stroke="#559436" stroke-width="0.5"/>
<line x1="456.76" y1="614.60" x2="456.76" y2="618.10" stroke="#2a2a2a" stroke-width="1"/>
<line x1="347.50" y1="562.50" x2="375.75" y2="562.50" stroke="#222" stroke-width="1.0"/>
<line x1="347.50" y1="560.30" x2="347.50" y2="564.70" stroke="#222" stroke-width="1.0"/>
<line x1="375.75" y1="560.30" x2="375.75" y2="564.70" stroke="#222" stroke-width="1.0"/>
<circle cx="361.25" cy="558.40" r="1.0" fill="#151515"/>
<line x1="347.50" y1="573.75" x2="364.25" y2="573.75" stroke="#222" stroke-width="1.0"/>
<line x1="347.50" y1="571.55" x2="347.50" y2="575.95" stroke="#222" stroke-width="1.0"/>
<line x1="364.25" y1="571.55" x2="364.25" y2="575.95" stroke="#222" stroke-width="1.0"/>
<circle cx="353.50" cy="569.65" r="1.0" fill="#151515"/>
<circle cx="356.50" cy="569.65" r="1.0" fill="#151515"/>
<line x1="388.25" y1="524.50" x2="416.25" y2="524.50" stroke="#222" stroke-width="1.0"/>
<line x1="388.25" y1="522.30" x2="388.25" y2="526.70" stroke="#222" stroke-width="1.0"/>
<line x1="416.25" y1="522.30" x2="416.25" y2="526.70" stroke="#222" stroke-width="1.0"/>
<circle cx="402.00" cy="520.40" r="1.0" fill="#151515"/>
<line x1="388.25" y1="532.50" x2="404.50" y2="532.50" stroke="#222" stroke-width="1.0"/>
<line x1="388.25" y1="530.30" x2="388.25" y2="534.70" stroke="#222" stroke-width="1.0"/>
<line x1="404.50" y1="530.30" x2="404.50" y2="534.70" stroke="#222" stroke-width="1.0"/>
<circle cx="395.50" cy="528.40" r="1.0" fill="#151515"/>
<circle cx="398.50" cy="528.40" r="1.0" fill="#151515"/>
<line x1="427.50" y1="528.25" x2="443.25" y2="528.25" stroke="#222" stroke-width="1.0"/>
<line x1="427.50" y1="526.05" x2="427.50" y2="530.45" stroke="#222" stroke-width="1.0"/>
<line x1="443.25" y1="526.05" x2="443.25" y2="530.45" stroke="#222" stroke-width="1.0"/>
<circle cx="434.00" cy="524.15" r="1.0" fill="#151515"/>
<circle cx="437.00" cy="524.15" r="1.0" fill="#151515"/>
<text x="0" y="0" font-size="7.2" text-anchor="middle" font-weight="normal" fill="#231f20" transform="translate(362.25,503.60)" >ICAM-1</text>
<text x="0" y="0" font-size="7.2" text-anchor="middle" font-weight="normal" fill="#231f20" transform="translate(401.90,503.60)" >VCAM-1</text>
<text x="0" y="0" font-size="7.2" text-anchor="middle" font-weight="normal" fill="#231f20" transform="translate(444.00,503.60)" >P-selectin</text>
<line x1="345.50" y1="509.30" x2="380.25" y2="509.30" stroke="#111" stroke-width="1.1"/>
<path d="M344.50,509.3 l4.6,-2.2 l-1.1,2.2 l1.1,2.2 Z M381.25,509.3 l-4.6,-2.2 l1.1,2.2 l-1.1,2.2 Z" fill="#111" stroke="#111" stroke-width="0.3"/>
<line x1="384.75" y1="509.30" x2="420.25" y2="509.30" stroke="#111" stroke-width="1.1"/>
<path d="M383.75,509.3 l4.6,-2.2 l-1.1,2.2 l1.1,2.2 Z M421.25,509.3 l-4.6,-2.2 l1.1,2.2 l-1.1,2.2 Z" fill="#111" stroke="#111" stroke-width="0.3"/>
<line x1="424.75" y1="509.30" x2="463.25" y2="509.30" stroke="#111" stroke-width="1.1"/>
<path d="M423.75,509.3 l4.6,-2.2 l-1.1,2.2 l1.1,2.2 Z M464.25,509.3 l-4.6,-2.2 l1.1,2.2 l-1.1,2.2 Z" fill="#111" stroke="#111" stroke-width="0.3"/>
<text x="0" y="0" font-size="9.2" text-anchor="middle" font-weight="normal" fill="#231f20" transform="translate(404.10,488.80)" >Kidney</text>
<text x="0" y="0" font-size="9" text-anchor="end" font-weight="normal" fill="#231f20" textLength="54" lengthAdjust="spacingAndGlyphs" transform="translate(284.20,538.40) rotate(-90)" style="stroke-width:0.38px">Protein expression</text>
<text x="0" y="0" font-size="9" text-anchor="end" font-weight="normal" fill="#231f20" textLength="52" lengthAdjust="spacingAndGlyphs" transform="translate(294.50,538.40) rotate(-90)" style="stroke-width:0.38px">integrated density</text>
<text x="0" y="0" font-size="9" text-anchor="end" font-weight="normal" fill="#231f20" textLength="58.8" lengthAdjust="spacingAndGlyphs" transform="translate(305.50,538.40) rotate(-90)" style="stroke-width:0.38px">(relative to GAPDH)</text>
<text x="0" y="0" font-size="8" text-anchor="end" font-weight="normal" fill="#231f20" transform="translate(353.60,624.50) rotate(-45)" >Vehicle</text>
<text x="0" y="0" font-size="8" text-anchor="end" font-weight="normal" fill="#231f20" transform="translate(366.82,624.50) rotate(-45)" >MnBuOE 0.1 mg/kg</text>
<text x="0" y="0" font-size="8" text-anchor="end" font-weight="normal" fill="#231f20" transform="translate(380.04,624.50) rotate(-45)" >MnE 1 mg/kg</text>
<text x="0" y="0" font-size="8" text-anchor="end" font-weight="normal" fill="#231f20" transform="translate(393.26,624.50) rotate(-45)" >Vehicle</text>
<text x="0" y="0" font-size="8" text-anchor="end" font-weight="normal" fill="#231f20" transform="translate(406.48,624.50) rotate(-45)" >MnBuOE 0.1 mg/kg</text>
<text x="0" y="0" font-size="8" text-anchor="end" font-weight="normal" fill="#231f20" transform="translate(419.70,624.50) rotate(-45)" >MnE 1 mg/kg</text>
<text x="0" y="0" font-size="8" text-anchor="end" font-weight="normal" fill="#231f20" transform="translate(432.92,624.50) rotate(-45)" >Vehicle</text>
<text x="0" y="0" font-size="8" text-anchor="end" font-weight="normal" fill="#231f20" transform="translate(446.14,624.50) rotate(-45)" >MnBuOE 0.1 mg/kg</text>
<text x="0" y="0" font-size="8" text-anchor="end" font-weight="normal" fill="#231f20" transform="translate(459.36,624.50) rotate(-45)" >MnE 1 mg/kg</text>
<rect x="0.5" y="0.5" width="519" height="682" fill="none" stroke="#000" stroke-width="1.2"/>
</svg>
</body></html>
